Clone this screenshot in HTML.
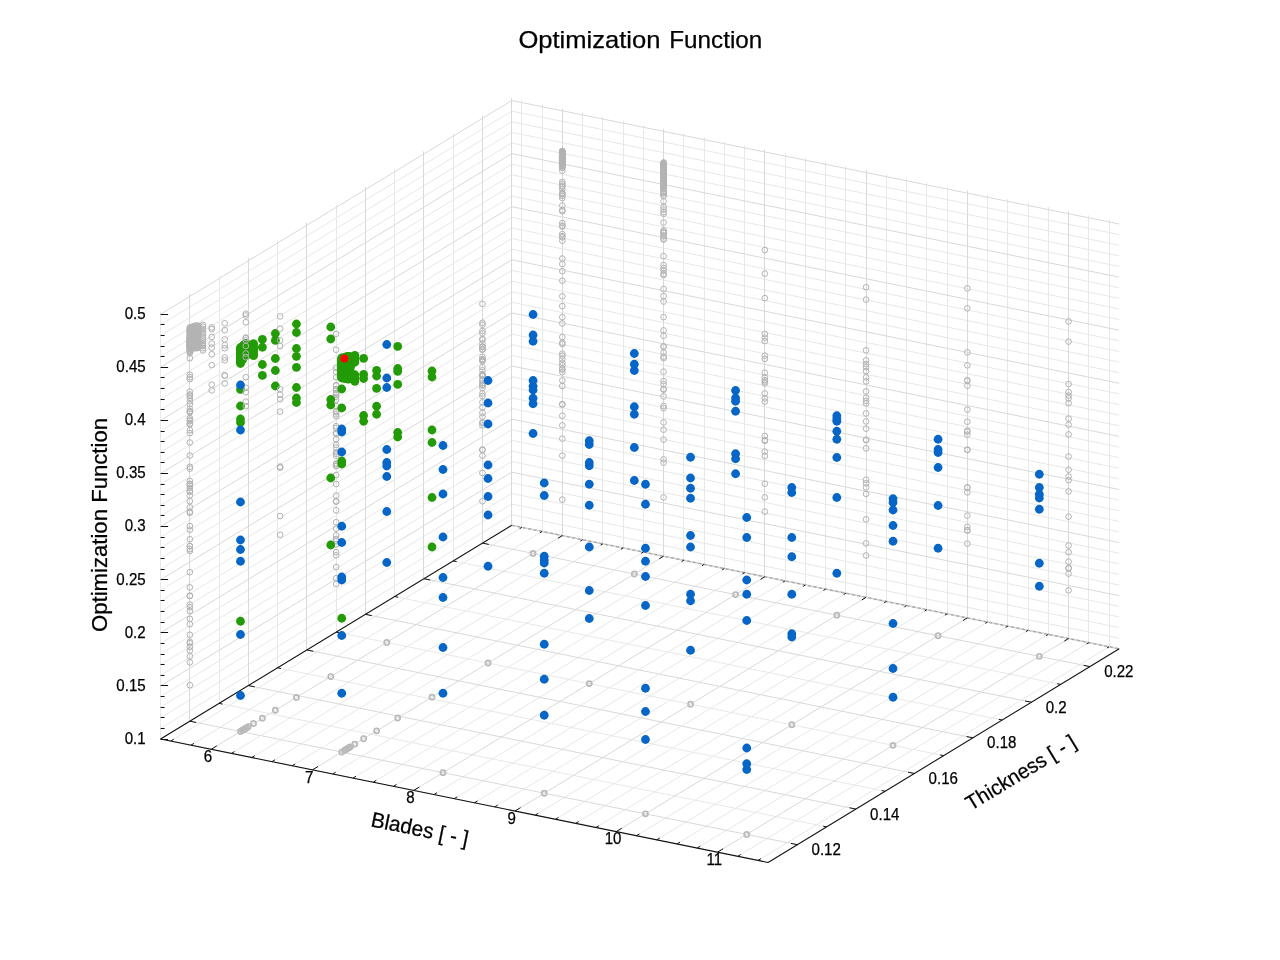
<!DOCTYPE html>
<html><head><meta charset="utf-8"><title>Optimization Function</title>
<style>html,body{margin:0;padding:0;background:#fff}svg{display:block}</style></head>
<body><svg width="1280" height="960" viewBox="0 0 1280 960">
<rect width="1280" height="960" fill="#fff"/>
<g shape-rendering="auto">
<line x1="160.60" y1="728.38" x2="511.70" y2="514.68" stroke="#e8e8e8" stroke-width="1" />
<line x1="511.70" y1="514.68" x2="1119.20" y2="638.18" stroke="#e8e8e8" stroke-width="1" />
<line x1="160.60" y1="717.76" x2="511.70" y2="504.06" stroke="#e8e8e8" stroke-width="1" />
<line x1="511.70" y1="504.06" x2="1119.20" y2="627.56" stroke="#e8e8e8" stroke-width="1" />
<line x1="160.60" y1="707.14" x2="511.70" y2="493.44" stroke="#e8e8e8" stroke-width="1" />
<line x1="511.70" y1="493.44" x2="1119.20" y2="616.94" stroke="#e8e8e8" stroke-width="1" />
<line x1="160.60" y1="696.52" x2="511.70" y2="482.82" stroke="#e8e8e8" stroke-width="1" />
<line x1="511.70" y1="482.82" x2="1119.20" y2="606.32" stroke="#e8e8e8" stroke-width="1" />
<line x1="160.60" y1="675.28" x2="511.70" y2="461.58" stroke="#e8e8e8" stroke-width="1" />
<line x1="511.70" y1="461.58" x2="1119.20" y2="585.08" stroke="#e8e8e8" stroke-width="1" />
<line x1="160.60" y1="664.66" x2="511.70" y2="450.96" stroke="#e8e8e8" stroke-width="1" />
<line x1="511.70" y1="450.96" x2="1119.20" y2="574.46" stroke="#e8e8e8" stroke-width="1" />
<line x1="160.60" y1="654.04" x2="511.70" y2="440.34" stroke="#e8e8e8" stroke-width="1" />
<line x1="511.70" y1="440.34" x2="1119.20" y2="563.84" stroke="#e8e8e8" stroke-width="1" />
<line x1="160.60" y1="643.42" x2="511.70" y2="429.72" stroke="#e8e8e8" stroke-width="1" />
<line x1="511.70" y1="429.72" x2="1119.20" y2="553.22" stroke="#e8e8e8" stroke-width="1" />
<line x1="160.60" y1="622.18" x2="511.70" y2="408.48" stroke="#e8e8e8" stroke-width="1" />
<line x1="511.70" y1="408.48" x2="1119.20" y2="531.98" stroke="#e8e8e8" stroke-width="1" />
<line x1="160.60" y1="611.56" x2="511.70" y2="397.86" stroke="#e8e8e8" stroke-width="1" />
<line x1="511.70" y1="397.86" x2="1119.20" y2="521.36" stroke="#e8e8e8" stroke-width="1" />
<line x1="160.60" y1="600.94" x2="511.70" y2="387.24" stroke="#e8e8e8" stroke-width="1" />
<line x1="511.70" y1="387.24" x2="1119.20" y2="510.74" stroke="#e8e8e8" stroke-width="1" />
<line x1="160.60" y1="590.32" x2="511.70" y2="376.62" stroke="#e8e8e8" stroke-width="1" />
<line x1="511.70" y1="376.62" x2="1119.20" y2="500.12" stroke="#e8e8e8" stroke-width="1" />
<line x1="160.60" y1="569.08" x2="511.70" y2="355.38" stroke="#e8e8e8" stroke-width="1" />
<line x1="511.70" y1="355.38" x2="1119.20" y2="478.88" stroke="#e8e8e8" stroke-width="1" />
<line x1="160.60" y1="558.46" x2="511.70" y2="344.76" stroke="#e8e8e8" stroke-width="1" />
<line x1="511.70" y1="344.76" x2="1119.20" y2="468.26" stroke="#e8e8e8" stroke-width="1" />
<line x1="160.60" y1="547.84" x2="511.70" y2="334.14" stroke="#e8e8e8" stroke-width="1" />
<line x1="511.70" y1="334.14" x2="1119.20" y2="457.64" stroke="#e8e8e8" stroke-width="1" />
<line x1="160.60" y1="537.22" x2="511.70" y2="323.52" stroke="#e8e8e8" stroke-width="1" />
<line x1="511.70" y1="323.52" x2="1119.20" y2="447.02" stroke="#e8e8e8" stroke-width="1" />
<line x1="160.60" y1="515.98" x2="511.70" y2="302.28" stroke="#e8e8e8" stroke-width="1" />
<line x1="511.70" y1="302.28" x2="1119.20" y2="425.78" stroke="#e8e8e8" stroke-width="1" />
<line x1="160.60" y1="505.36" x2="511.70" y2="291.66" stroke="#e8e8e8" stroke-width="1" />
<line x1="511.70" y1="291.66" x2="1119.20" y2="415.16" stroke="#e8e8e8" stroke-width="1" />
<line x1="160.60" y1="494.74" x2="511.70" y2="281.04" stroke="#e8e8e8" stroke-width="1" />
<line x1="511.70" y1="281.04" x2="1119.20" y2="404.54" stroke="#e8e8e8" stroke-width="1" />
<line x1="160.60" y1="484.12" x2="511.70" y2="270.42" stroke="#e8e8e8" stroke-width="1" />
<line x1="511.70" y1="270.42" x2="1119.20" y2="393.92" stroke="#e8e8e8" stroke-width="1" />
<line x1="160.60" y1="462.88" x2="511.70" y2="249.18" stroke="#e8e8e8" stroke-width="1" />
<line x1="511.70" y1="249.18" x2="1119.20" y2="372.68" stroke="#e8e8e8" stroke-width="1" />
<line x1="160.60" y1="452.26" x2="511.70" y2="238.56" stroke="#e8e8e8" stroke-width="1" />
<line x1="511.70" y1="238.56" x2="1119.20" y2="362.06" stroke="#e8e8e8" stroke-width="1" />
<line x1="160.60" y1="441.64" x2="511.70" y2="227.94" stroke="#e8e8e8" stroke-width="1" />
<line x1="511.70" y1="227.94" x2="1119.20" y2="351.44" stroke="#e8e8e8" stroke-width="1" />
<line x1="160.60" y1="431.02" x2="511.70" y2="217.32" stroke="#e8e8e8" stroke-width="1" />
<line x1="511.70" y1="217.32" x2="1119.20" y2="340.82" stroke="#e8e8e8" stroke-width="1" />
<line x1="160.60" y1="409.78" x2="511.70" y2="196.08" stroke="#e8e8e8" stroke-width="1" />
<line x1="511.70" y1="196.08" x2="1119.20" y2="319.58" stroke="#e8e8e8" stroke-width="1" />
<line x1="160.60" y1="399.16" x2="511.70" y2="185.46" stroke="#e8e8e8" stroke-width="1" />
<line x1="511.70" y1="185.46" x2="1119.20" y2="308.96" stroke="#e8e8e8" stroke-width="1" />
<line x1="160.60" y1="388.54" x2="511.70" y2="174.84" stroke="#e8e8e8" stroke-width="1" />
<line x1="511.70" y1="174.84" x2="1119.20" y2="298.34" stroke="#e8e8e8" stroke-width="1" />
<line x1="160.60" y1="377.92" x2="511.70" y2="164.22" stroke="#e8e8e8" stroke-width="1" />
<line x1="511.70" y1="164.22" x2="1119.20" y2="287.72" stroke="#e8e8e8" stroke-width="1" />
<line x1="160.60" y1="356.68" x2="511.70" y2="142.98" stroke="#e8e8e8" stroke-width="1" />
<line x1="511.70" y1="142.98" x2="1119.20" y2="266.48" stroke="#e8e8e8" stroke-width="1" />
<line x1="160.60" y1="346.06" x2="511.70" y2="132.36" stroke="#e8e8e8" stroke-width="1" />
<line x1="511.70" y1="132.36" x2="1119.20" y2="255.86" stroke="#e8e8e8" stroke-width="1" />
<line x1="160.60" y1="335.44" x2="511.70" y2="121.74" stroke="#e8e8e8" stroke-width="1" />
<line x1="511.70" y1="121.74" x2="1119.20" y2="245.24" stroke="#e8e8e8" stroke-width="1" />
<line x1="160.60" y1="324.82" x2="511.70" y2="111.12" stroke="#e8e8e8" stroke-width="1" />
<line x1="511.70" y1="111.12" x2="1119.20" y2="234.62" stroke="#e8e8e8" stroke-width="1" />
<line x1="160.50" y1="739.00" x2="160.50" y2="311.70" stroke="#e8e8e8" stroke-width="1" />
<line x1="160.60" y1="739.00" x2="768.10" y2="862.50" stroke="#e8e8e8" stroke-width="1" />
<line x1="219.50" y1="703.38" x2="219.50" y2="276.08" stroke="#e8e8e8" stroke-width="1" />
<line x1="219.12" y1="703.38" x2="826.62" y2="826.88" stroke="#e8e8e8" stroke-width="1" />
<line x1="277.50" y1="667.77" x2="277.50" y2="240.47" stroke="#e8e8e8" stroke-width="1" />
<line x1="277.63" y1="667.77" x2="885.13" y2="791.27" stroke="#e8e8e8" stroke-width="1" />
<line x1="336.50" y1="632.15" x2="336.50" y2="204.85" stroke="#e8e8e8" stroke-width="1" />
<line x1="336.15" y1="632.15" x2="943.65" y2="755.65" stroke="#e8e8e8" stroke-width="1" />
<line x1="394.50" y1="596.53" x2="394.50" y2="169.23" stroke="#e8e8e8" stroke-width="1" />
<line x1="394.67" y1="596.53" x2="1002.17" y2="720.03" stroke="#e8e8e8" stroke-width="1" />
<line x1="453.50" y1="560.92" x2="453.50" y2="133.62" stroke="#e8e8e8" stroke-width="1" />
<line x1="453.18" y1="560.92" x2="1060.68" y2="684.42" stroke="#e8e8e8" stroke-width="1" />
<line x1="511.50" y1="525.30" x2="511.50" y2="98.00" stroke="#e8e8e8" stroke-width="1" />
<line x1="511.70" y1="525.30" x2="1119.20" y2="648.80" stroke="#e8e8e8" stroke-width="1" />
<line x1="521.50" y1="527.36" x2="521.50" y2="100.06" stroke="#e8e8e8" stroke-width="1" />
<line x1="170.72" y1="741.06" x2="521.83" y2="527.36" stroke="#e8e8e8" stroke-width="1" />
<line x1="542.50" y1="531.47" x2="542.50" y2="104.17" stroke="#e8e8e8" stroke-width="1" />
<line x1="190.97" y1="745.17" x2="542.08" y2="531.47" stroke="#e8e8e8" stroke-width="1" />
<line x1="582.50" y1="539.71" x2="582.50" y2="112.41" stroke="#e8e8e8" stroke-width="1" />
<line x1="231.47" y1="753.41" x2="582.57" y2="539.71" stroke="#e8e8e8" stroke-width="1" />
<line x1="602.50" y1="543.82" x2="602.50" y2="116.52" stroke="#e8e8e8" stroke-width="1" />
<line x1="251.72" y1="757.52" x2="602.82" y2="543.82" stroke="#e8e8e8" stroke-width="1" />
<line x1="623.50" y1="547.94" x2="623.50" y2="120.64" stroke="#e8e8e8" stroke-width="1" />
<line x1="271.97" y1="761.64" x2="623.08" y2="547.94" stroke="#e8e8e8" stroke-width="1" />
<line x1="643.50" y1="552.06" x2="643.50" y2="124.76" stroke="#e8e8e8" stroke-width="1" />
<line x1="292.22" y1="765.76" x2="643.33" y2="552.06" stroke="#e8e8e8" stroke-width="1" />
<line x1="683.50" y1="560.29" x2="683.50" y2="132.99" stroke="#e8e8e8" stroke-width="1" />
<line x1="332.72" y1="773.99" x2="683.82" y2="560.29" stroke="#e8e8e8" stroke-width="1" />
<line x1="704.50" y1="564.41" x2="704.50" y2="137.11" stroke="#e8e8e8" stroke-width="1" />
<line x1="352.97" y1="778.11" x2="704.07" y2="564.41" stroke="#e8e8e8" stroke-width="1" />
<line x1="724.50" y1="568.52" x2="724.50" y2="141.22" stroke="#e8e8e8" stroke-width="1" />
<line x1="373.22" y1="782.23" x2="724.33" y2="568.52" stroke="#e8e8e8" stroke-width="1" />
<line x1="744.50" y1="572.64" x2="744.50" y2="145.34" stroke="#e8e8e8" stroke-width="1" />
<line x1="393.47" y1="786.34" x2="744.58" y2="572.64" stroke="#e8e8e8" stroke-width="1" />
<line x1="785.50" y1="580.87" x2="785.50" y2="153.57" stroke="#e8e8e8" stroke-width="1" />
<line x1="433.97" y1="794.57" x2="785.07" y2="580.87" stroke="#e8e8e8" stroke-width="1" />
<line x1="805.50" y1="584.99" x2="805.50" y2="157.69" stroke="#e8e8e8" stroke-width="1" />
<line x1="454.23" y1="798.69" x2="805.33" y2="584.99" stroke="#e8e8e8" stroke-width="1" />
<line x1="825.50" y1="589.11" x2="825.50" y2="161.81" stroke="#e8e8e8" stroke-width="1" />
<line x1="474.47" y1="802.81" x2="825.57" y2="589.11" stroke="#e8e8e8" stroke-width="1" />
<line x1="845.50" y1="593.22" x2="845.50" y2="165.92" stroke="#e8e8e8" stroke-width="1" />
<line x1="494.73" y1="806.92" x2="845.83" y2="593.22" stroke="#e8e8e8" stroke-width="1" />
<line x1="886.50" y1="601.46" x2="886.50" y2="174.16" stroke="#e8e8e8" stroke-width="1" />
<line x1="535.22" y1="815.16" x2="886.32" y2="601.46" stroke="#e8e8e8" stroke-width="1" />
<line x1="906.50" y1="605.57" x2="906.50" y2="178.27" stroke="#e8e8e8" stroke-width="1" />
<line x1="555.48" y1="819.27" x2="906.58" y2="605.57" stroke="#e8e8e8" stroke-width="1" />
<line x1="926.50" y1="609.69" x2="926.50" y2="182.39" stroke="#e8e8e8" stroke-width="1" />
<line x1="575.72" y1="823.39" x2="926.82" y2="609.69" stroke="#e8e8e8" stroke-width="1" />
<line x1="947.50" y1="613.81" x2="947.50" y2="186.51" stroke="#e8e8e8" stroke-width="1" />
<line x1="595.98" y1="827.51" x2="947.08" y2="613.81" stroke="#e8e8e8" stroke-width="1" />
<line x1="987.50" y1="622.04" x2="987.50" y2="194.74" stroke="#e8e8e8" stroke-width="1" />
<line x1="636.47" y1="835.74" x2="987.57" y2="622.04" stroke="#e8e8e8" stroke-width="1" />
<line x1="1007.50" y1="626.16" x2="1007.50" y2="198.86" stroke="#e8e8e8" stroke-width="1" />
<line x1="656.73" y1="839.86" x2="1007.83" y2="626.16" stroke="#e8e8e8" stroke-width="1" />
<line x1="1028.50" y1="630.27" x2="1028.50" y2="202.97" stroke="#e8e8e8" stroke-width="1" />
<line x1="676.98" y1="843.98" x2="1028.08" y2="630.27" stroke="#e8e8e8" stroke-width="1" />
<line x1="1048.50" y1="634.39" x2="1048.50" y2="207.09" stroke="#e8e8e8" stroke-width="1" />
<line x1="697.23" y1="848.09" x2="1048.33" y2="634.39" stroke="#e8e8e8" stroke-width="1" />
<line x1="1088.50" y1="642.62" x2="1088.50" y2="215.32" stroke="#e8e8e8" stroke-width="1" />
<line x1="737.72" y1="856.32" x2="1088.82" y2="642.62" stroke="#e8e8e8" stroke-width="1" />
<line x1="1109.50" y1="646.74" x2="1109.50" y2="219.44" stroke="#e8e8e8" stroke-width="1" />
<line x1="757.98" y1="860.44" x2="1109.08" y2="646.74" stroke="#e8e8e8" stroke-width="1" />
<line x1="160.60" y1="739.00" x2="511.70" y2="525.30" stroke="#d9d9d9" stroke-width="1" />
<line x1="511.70" y1="525.30" x2="1119.20" y2="648.80" stroke="#d9d9d9" stroke-width="1" />
<line x1="160.60" y1="685.90" x2="511.70" y2="472.20" stroke="#d9d9d9" stroke-width="1" />
<line x1="511.70" y1="472.20" x2="1119.20" y2="595.70" stroke="#d9d9d9" stroke-width="1" />
<line x1="160.60" y1="632.80" x2="511.70" y2="419.10" stroke="#d9d9d9" stroke-width="1" />
<line x1="511.70" y1="419.10" x2="1119.20" y2="542.60" stroke="#d9d9d9" stroke-width="1" />
<line x1="160.60" y1="579.70" x2="511.70" y2="366.00" stroke="#d9d9d9" stroke-width="1" />
<line x1="511.70" y1="366.00" x2="1119.20" y2="489.50" stroke="#d9d9d9" stroke-width="1" />
<line x1="160.60" y1="526.60" x2="511.70" y2="312.90" stroke="#d9d9d9" stroke-width="1" />
<line x1="511.70" y1="312.90" x2="1119.20" y2="436.40" stroke="#d9d9d9" stroke-width="1" />
<line x1="160.60" y1="473.50" x2="511.70" y2="259.80" stroke="#d9d9d9" stroke-width="1" />
<line x1="511.70" y1="259.80" x2="1119.20" y2="383.30" stroke="#d9d9d9" stroke-width="1" />
<line x1="160.60" y1="420.40" x2="511.70" y2="206.70" stroke="#d9d9d9" stroke-width="1" />
<line x1="511.70" y1="206.70" x2="1119.20" y2="330.20" stroke="#d9d9d9" stroke-width="1" />
<line x1="160.60" y1="367.30" x2="511.70" y2="153.60" stroke="#d9d9d9" stroke-width="1" />
<line x1="511.70" y1="153.60" x2="1119.20" y2="277.10" stroke="#d9d9d9" stroke-width="1" />
<line x1="160.60" y1="314.20" x2="511.70" y2="100.50" stroke="#d9d9d9" stroke-width="1" />
<line x1="511.70" y1="100.50" x2="1119.20" y2="224.00" stroke="#d9d9d9" stroke-width="1" />
<line x1="189.50" y1="721.19" x2="189.50" y2="293.89" stroke="#d9d9d9" stroke-width="1" />
<line x1="189.86" y1="721.19" x2="797.36" y2="844.69" stroke="#d9d9d9" stroke-width="1" />
<line x1="248.50" y1="685.57" x2="248.50" y2="258.27" stroke="#d9d9d9" stroke-width="1" />
<line x1="248.38" y1="685.57" x2="855.88" y2="809.07" stroke="#d9d9d9" stroke-width="1" />
<line x1="306.50" y1="649.96" x2="306.50" y2="222.66" stroke="#d9d9d9" stroke-width="1" />
<line x1="306.89" y1="649.96" x2="914.39" y2="773.46" stroke="#d9d9d9" stroke-width="1" />
<line x1="365.50" y1="614.34" x2="365.50" y2="187.04" stroke="#d9d9d9" stroke-width="1" />
<line x1="365.41" y1="614.34" x2="972.91" y2="737.84" stroke="#d9d9d9" stroke-width="1" />
<line x1="423.50" y1="578.72" x2="423.50" y2="151.42" stroke="#d9d9d9" stroke-width="1" />
<line x1="423.93" y1="578.72" x2="1031.43" y2="702.22" stroke="#d9d9d9" stroke-width="1" />
<line x1="482.50" y1="543.11" x2="482.50" y2="115.81" stroke="#d9d9d9" stroke-width="1" />
<line x1="482.44" y1="543.11" x2="1089.94" y2="666.61" stroke="#d9d9d9" stroke-width="1" />
<line x1="562.50" y1="535.59" x2="562.50" y2="108.29" stroke="#d9d9d9" stroke-width="1" />
<line x1="211.22" y1="749.29" x2="562.33" y2="535.59" stroke="#d9d9d9" stroke-width="1" />
<line x1="663.50" y1="556.17" x2="663.50" y2="128.87" stroke="#d9d9d9" stroke-width="1" />
<line x1="312.48" y1="769.88" x2="663.58" y2="556.17" stroke="#d9d9d9" stroke-width="1" />
<line x1="764.50" y1="576.76" x2="764.50" y2="149.46" stroke="#d9d9d9" stroke-width="1" />
<line x1="413.73" y1="790.46" x2="764.83" y2="576.76" stroke="#d9d9d9" stroke-width="1" />
<line x1="866.50" y1="597.34" x2="866.50" y2="170.04" stroke="#d9d9d9" stroke-width="1" />
<line x1="514.98" y1="811.04" x2="866.08" y2="597.34" stroke="#d9d9d9" stroke-width="1" />
<line x1="967.50" y1="617.92" x2="967.50" y2="190.62" stroke="#d9d9d9" stroke-width="1" />
<line x1="616.23" y1="831.62" x2="967.33" y2="617.92" stroke="#d9d9d9" stroke-width="1" />
<line x1="1068.50" y1="638.51" x2="1068.50" y2="211.21" stroke="#d9d9d9" stroke-width="1" />
<line x1="717.48" y1="852.21" x2="1068.58" y2="638.51" stroke="#d9d9d9" stroke-width="1" />
<line x1="511.50" y1="525.30" x2="511.50" y2="98.00" stroke="#d9d9d9" stroke-width="1" />
</g>
<line x1="511.70" y1="525.30" x2="1119.20" y2="648.80" stroke="#d8d8d8" stroke-width="1.6" />
<line x1="511.70" y1="525.30" x2="1119.20" y2="648.80" stroke="#a8a8a8" stroke-width="1.3" stroke-dasharray="3 2.6"/>
<line x1="160.60" y1="739.00" x2="511.70" y2="525.30" stroke="#111" stroke-width="1.1" />
<line x1="160.60" y1="739.00" x2="768.10" y2="862.50" stroke="#111" stroke-width="1.1" />
<line x1="768.10" y1="862.50" x2="1119.20" y2="648.80" stroke="#111" stroke-width="1.1" />
<line x1="170.72" y1="741.06" x2="173.71" y2="739.24" stroke="#111" stroke-width="1.0" />
<line x1="521.83" y1="527.36" x2="519.69" y2="528.66" stroke="#111" stroke-width="1.0" />
<line x1="190.97" y1="745.17" x2="193.96" y2="743.36" stroke="#111" stroke-width="1.0" />
<line x1="542.08" y1="531.47" x2="539.94" y2="532.77" stroke="#111" stroke-width="1.0" />
<line x1="211.22" y1="749.29" x2="216.78" y2="745.91" stroke="#111" stroke-width="1.0" />
<line x1="562.33" y1="535.59" x2="558.05" y2="538.19" stroke="#111" stroke-width="1.0" />
<line x1="231.47" y1="753.41" x2="234.46" y2="751.59" stroke="#111" stroke-width="1.0" />
<line x1="582.57" y1="539.71" x2="580.44" y2="541.01" stroke="#111" stroke-width="1.0" />
<line x1="251.72" y1="757.52" x2="254.71" y2="755.71" stroke="#111" stroke-width="1.0" />
<line x1="602.82" y1="543.82" x2="600.69" y2="545.12" stroke="#111" stroke-width="1.0" />
<line x1="271.97" y1="761.64" x2="274.96" y2="759.82" stroke="#111" stroke-width="1.0" />
<line x1="623.08" y1="547.94" x2="620.94" y2="549.24" stroke="#111" stroke-width="1.0" />
<line x1="292.22" y1="765.76" x2="295.21" y2="763.94" stroke="#111" stroke-width="1.0" />
<line x1="643.33" y1="552.06" x2="641.19" y2="553.36" stroke="#111" stroke-width="1.0" />
<line x1="312.48" y1="769.88" x2="318.03" y2="766.50" stroke="#111" stroke-width="1.0" />
<line x1="663.58" y1="556.17" x2="659.30" y2="558.77" stroke="#111" stroke-width="1.0" />
<line x1="332.72" y1="773.99" x2="335.71" y2="772.17" stroke="#111" stroke-width="1.0" />
<line x1="683.82" y1="560.29" x2="681.69" y2="561.59" stroke="#111" stroke-width="1.0" />
<line x1="352.97" y1="778.11" x2="355.96" y2="776.29" stroke="#111" stroke-width="1.0" />
<line x1="704.07" y1="564.41" x2="701.94" y2="565.71" stroke="#111" stroke-width="1.0" />
<line x1="373.22" y1="782.23" x2="376.21" y2="780.41" stroke="#111" stroke-width="1.0" />
<line x1="724.33" y1="568.52" x2="722.19" y2="569.82" stroke="#111" stroke-width="1.0" />
<line x1="393.47" y1="786.34" x2="396.46" y2="784.52" stroke="#111" stroke-width="1.0" />
<line x1="744.58" y1="572.64" x2="742.44" y2="573.94" stroke="#111" stroke-width="1.0" />
<line x1="413.73" y1="790.46" x2="419.28" y2="787.08" stroke="#111" stroke-width="1.0" />
<line x1="764.83" y1="576.76" x2="760.55" y2="579.36" stroke="#111" stroke-width="1.0" />
<line x1="433.97" y1="794.57" x2="436.96" y2="792.76" stroke="#111" stroke-width="1.0" />
<line x1="785.07" y1="580.87" x2="782.94" y2="582.17" stroke="#111" stroke-width="1.0" />
<line x1="454.23" y1="798.69" x2="457.21" y2="796.87" stroke="#111" stroke-width="1.0" />
<line x1="805.33" y1="584.99" x2="803.19" y2="586.29" stroke="#111" stroke-width="1.0" />
<line x1="474.47" y1="802.81" x2="477.46" y2="800.99" stroke="#111" stroke-width="1.0" />
<line x1="825.57" y1="589.11" x2="823.44" y2="590.41" stroke="#111" stroke-width="1.0" />
<line x1="494.73" y1="806.92" x2="497.71" y2="805.11" stroke="#111" stroke-width="1.0" />
<line x1="845.83" y1="593.22" x2="843.69" y2="594.52" stroke="#111" stroke-width="1.0" />
<line x1="514.98" y1="811.04" x2="520.53" y2="807.66" stroke="#111" stroke-width="1.0" />
<line x1="866.08" y1="597.34" x2="861.80" y2="599.94" stroke="#111" stroke-width="1.0" />
<line x1="535.22" y1="815.16" x2="538.21" y2="813.34" stroke="#111" stroke-width="1.0" />
<line x1="886.32" y1="601.46" x2="884.19" y2="602.76" stroke="#111" stroke-width="1.0" />
<line x1="555.48" y1="819.27" x2="558.46" y2="817.46" stroke="#111" stroke-width="1.0" />
<line x1="906.58" y1="605.57" x2="904.44" y2="606.87" stroke="#111" stroke-width="1.0" />
<line x1="575.72" y1="823.39" x2="578.71" y2="821.57" stroke="#111" stroke-width="1.0" />
<line x1="926.82" y1="609.69" x2="924.69" y2="610.99" stroke="#111" stroke-width="1.0" />
<line x1="595.98" y1="827.51" x2="598.96" y2="825.69" stroke="#111" stroke-width="1.0" />
<line x1="947.08" y1="613.81" x2="944.94" y2="615.11" stroke="#111" stroke-width="1.0" />
<line x1="616.23" y1="831.62" x2="621.78" y2="828.25" stroke="#111" stroke-width="1.0" />
<line x1="967.33" y1="617.92" x2="963.05" y2="620.52" stroke="#111" stroke-width="1.0" />
<line x1="636.47" y1="835.74" x2="639.46" y2="833.92" stroke="#111" stroke-width="1.0" />
<line x1="987.57" y1="622.04" x2="985.44" y2="623.34" stroke="#111" stroke-width="1.0" />
<line x1="656.73" y1="839.86" x2="659.71" y2="838.04" stroke="#111" stroke-width="1.0" />
<line x1="1007.83" y1="626.16" x2="1005.69" y2="627.46" stroke="#111" stroke-width="1.0" />
<line x1="676.98" y1="843.98" x2="679.96" y2="842.16" stroke="#111" stroke-width="1.0" />
<line x1="1028.08" y1="630.27" x2="1025.94" y2="631.57" stroke="#111" stroke-width="1.0" />
<line x1="697.23" y1="848.09" x2="700.21" y2="846.27" stroke="#111" stroke-width="1.0" />
<line x1="1048.33" y1="634.39" x2="1046.19" y2="635.69" stroke="#111" stroke-width="1.0" />
<line x1="717.48" y1="852.21" x2="723.03" y2="848.83" stroke="#111" stroke-width="1.0" />
<line x1="1068.58" y1="638.51" x2="1064.30" y2="641.11" stroke="#111" stroke-width="1.0" />
<line x1="737.72" y1="856.32" x2="740.71" y2="854.51" stroke="#111" stroke-width="1.0" />
<line x1="1088.82" y1="642.62" x2="1086.69" y2="643.92" stroke="#111" stroke-width="1.0" />
<line x1="757.98" y1="860.44" x2="760.96" y2="858.62" stroke="#111" stroke-width="1.0" />
<line x1="1109.08" y1="646.74" x2="1106.94" y2="648.04" stroke="#111" stroke-width="1.0" />
<line x1="797.36" y1="844.69" x2="790.99" y2="843.40" stroke="#111" stroke-width="1.0" />
<line x1="189.86" y1="721.19" x2="196.23" y2="722.49" stroke="#111" stroke-width="1.0" />
<line x1="826.62" y1="826.88" x2="823.19" y2="826.19" stroke="#111" stroke-width="1.0" />
<line x1="219.12" y1="703.38" x2="222.55" y2="704.08" stroke="#111" stroke-width="1.0" />
<line x1="855.88" y1="809.08" x2="849.51" y2="807.78" stroke="#111" stroke-width="1.0" />
<line x1="248.37" y1="685.58" x2="254.74" y2="686.87" stroke="#111" stroke-width="1.0" />
<line x1="885.13" y1="791.27" x2="881.70" y2="790.57" stroke="#111" stroke-width="1.0" />
<line x1="277.63" y1="667.77" x2="281.06" y2="668.46" stroke="#111" stroke-width="1.0" />
<line x1="914.39" y1="773.46" x2="908.02" y2="772.16" stroke="#111" stroke-width="1.0" />
<line x1="306.89" y1="649.96" x2="313.26" y2="651.25" stroke="#111" stroke-width="1.0" />
<line x1="943.65" y1="755.65" x2="940.22" y2="754.95" stroke="#111" stroke-width="1.0" />
<line x1="336.15" y1="632.15" x2="339.58" y2="632.85" stroke="#111" stroke-width="1.0" />
<line x1="972.91" y1="737.84" x2="966.54" y2="736.55" stroke="#111" stroke-width="1.0" />
<line x1="365.41" y1="614.34" x2="371.78" y2="615.64" stroke="#111" stroke-width="1.0" />
<line x1="1002.17" y1="720.03" x2="998.74" y2="719.34" stroke="#111" stroke-width="1.0" />
<line x1="394.67" y1="596.53" x2="398.10" y2="597.23" stroke="#111" stroke-width="1.0" />
<line x1="1031.43" y1="702.22" x2="1025.06" y2="700.93" stroke="#111" stroke-width="1.0" />
<line x1="423.93" y1="578.72" x2="430.29" y2="580.02" stroke="#111" stroke-width="1.0" />
<line x1="1060.68" y1="684.42" x2="1057.25" y2="683.72" stroke="#111" stroke-width="1.0" />
<line x1="453.18" y1="560.92" x2="456.61" y2="561.61" stroke="#111" stroke-width="1.0" />
<line x1="1089.94" y1="666.61" x2="1083.57" y2="665.31" stroke="#111" stroke-width="1.0" />
<line x1="482.44" y1="543.11" x2="488.81" y2="544.40" stroke="#111" stroke-width="1.0" />
<line x1="160.60" y1="739.50" x2="168.10" y2="739.50" stroke="#111" stroke-width="1.0" />
<line x1="160.60" y1="728.50" x2="164.60" y2="728.50" stroke="#111" stroke-width="1.0" />
<line x1="160.60" y1="717.50" x2="164.60" y2="717.50" stroke="#111" stroke-width="1.0" />
<line x1="160.60" y1="707.50" x2="164.60" y2="707.50" stroke="#111" stroke-width="1.0" />
<line x1="160.60" y1="696.50" x2="164.60" y2="696.50" stroke="#111" stroke-width="1.0" />
<line x1="160.60" y1="685.50" x2="168.10" y2="685.50" stroke="#111" stroke-width="1.0" />
<line x1="160.60" y1="675.50" x2="164.60" y2="675.50" stroke="#111" stroke-width="1.0" />
<line x1="160.60" y1="664.50" x2="164.60" y2="664.50" stroke="#111" stroke-width="1.0" />
<line x1="160.60" y1="654.50" x2="164.60" y2="654.50" stroke="#111" stroke-width="1.0" />
<line x1="160.60" y1="643.50" x2="164.60" y2="643.50" stroke="#111" stroke-width="1.0" />
<line x1="160.60" y1="632.50" x2="168.10" y2="632.50" stroke="#111" stroke-width="1.0" />
<line x1="160.60" y1="622.50" x2="164.60" y2="622.50" stroke="#111" stroke-width="1.0" />
<line x1="160.60" y1="611.50" x2="164.60" y2="611.50" stroke="#111" stroke-width="1.0" />
<line x1="160.60" y1="600.50" x2="164.60" y2="600.50" stroke="#111" stroke-width="1.0" />
<line x1="160.60" y1="590.50" x2="164.60" y2="590.50" stroke="#111" stroke-width="1.0" />
<line x1="160.60" y1="579.50" x2="168.10" y2="579.50" stroke="#111" stroke-width="1.0" />
<line x1="160.60" y1="569.50" x2="164.60" y2="569.50" stroke="#111" stroke-width="1.0" />
<line x1="160.60" y1="558.50" x2="164.60" y2="558.50" stroke="#111" stroke-width="1.0" />
<line x1="160.60" y1="547.50" x2="164.60" y2="547.50" stroke="#111" stroke-width="1.0" />
<line x1="160.60" y1="537.50" x2="164.60" y2="537.50" stroke="#111" stroke-width="1.0" />
<line x1="160.60" y1="526.50" x2="168.10" y2="526.50" stroke="#111" stroke-width="1.0" />
<line x1="160.60" y1="515.50" x2="164.60" y2="515.50" stroke="#111" stroke-width="1.0" />
<line x1="160.60" y1="505.50" x2="164.60" y2="505.50" stroke="#111" stroke-width="1.0" />
<line x1="160.60" y1="494.50" x2="164.60" y2="494.50" stroke="#111" stroke-width="1.0" />
<line x1="160.60" y1="484.50" x2="164.60" y2="484.50" stroke="#111" stroke-width="1.0" />
<line x1="160.60" y1="473.50" x2="168.10" y2="473.50" stroke="#111" stroke-width="1.0" />
<line x1="160.60" y1="462.50" x2="164.60" y2="462.50" stroke="#111" stroke-width="1.0" />
<line x1="160.60" y1="452.50" x2="164.60" y2="452.50" stroke="#111" stroke-width="1.0" />
<line x1="160.60" y1="441.50" x2="164.60" y2="441.50" stroke="#111" stroke-width="1.0" />
<line x1="160.60" y1="431.50" x2="164.60" y2="431.50" stroke="#111" stroke-width="1.0" />
<line x1="160.60" y1="420.50" x2="168.10" y2="420.50" stroke="#111" stroke-width="1.0" />
<line x1="160.60" y1="409.50" x2="164.60" y2="409.50" stroke="#111" stroke-width="1.0" />
<line x1="160.60" y1="399.50" x2="164.60" y2="399.50" stroke="#111" stroke-width="1.0" />
<line x1="160.60" y1="388.50" x2="164.60" y2="388.50" stroke="#111" stroke-width="1.0" />
<line x1="160.60" y1="377.50" x2="164.60" y2="377.50" stroke="#111" stroke-width="1.0" />
<line x1="160.60" y1="367.50" x2="168.10" y2="367.50" stroke="#111" stroke-width="1.0" />
<line x1="160.60" y1="356.50" x2="164.60" y2="356.50" stroke="#111" stroke-width="1.0" />
<line x1="160.60" y1="346.50" x2="164.60" y2="346.50" stroke="#111" stroke-width="1.0" />
<line x1="160.60" y1="335.50" x2="164.60" y2="335.50" stroke="#111" stroke-width="1.0" />
<line x1="160.60" y1="324.50" x2="164.60" y2="324.50" stroke="#111" stroke-width="1.0" />
<line x1="160.60" y1="314.50" x2="168.10" y2="314.50" stroke="#111" stroke-width="1.0" />
<circle cx="240.48" cy="731.48" r="2.55" fill="none" stroke="#bababa" stroke-width="1.7"/>
<circle cx="189.86" cy="374.72" r="2.85" fill="none" stroke="#b3b3b3" stroke-width="1.0"/>
<circle cx="562.33" cy="189.12" r="2.85" fill="none" stroke="#b3b3b3" stroke-width="1.0"/>
<circle cx="189.86" cy="419.71" r="2.85" fill="none" stroke="#b3b3b3" stroke-width="1.0"/>
<circle cx="562.33" cy="234.11" r="2.85" fill="none" stroke="#b3b3b3" stroke-width="1.0"/>
<circle cx="189.86" cy="491.71" r="2.85" fill="none" stroke="#b3b3b3" stroke-width="1.0"/>
<circle cx="562.33" cy="306.11" r="2.85" fill="none" stroke="#b3b3b3" stroke-width="1.0"/>
<circle cx="189.86" cy="529.71" r="2.85" fill="none" stroke="#b3b3b3" stroke-width="1.0"/>
<circle cx="562.33" cy="344.11" r="2.85" fill="none" stroke="#b3b3b3" stroke-width="1.0"/>
<circle cx="189.86" cy="539.21" r="2.85" fill="none" stroke="#b3b3b3" stroke-width="1.0"/>
<circle cx="562.33" cy="353.61" r="2.85" fill="none" stroke="#b3b3b3" stroke-width="1.0"/>
<circle cx="189.86" cy="550.96" r="2.85" fill="none" stroke="#b3b3b3" stroke-width="1.0"/>
<circle cx="562.33" cy="365.36" r="2.85" fill="none" stroke="#b3b3b3" stroke-width="1.0"/>
<circle cx="189.86" cy="624.21" r="2.85" fill="none" stroke="#b3b3b3" stroke-width="1.0"/>
<circle cx="562.33" cy="438.61" r="2.85" fill="none" stroke="#b3b3b3" stroke-width="1.0"/>
<circle cx="189.86" cy="685.21" r="2.85" fill="none" stroke="#b3b3b3" stroke-width="1.0"/>
<circle cx="562.33" cy="499.61" r="2.85" fill="none" stroke="#b3b3b3" stroke-width="1.0"/>
<circle cx="341.73" cy="752.07" r="2.55" fill="none" stroke="#bababa" stroke-width="1.7"/>
<circle cx="189.86" cy="397.83" r="2.85" fill="none" stroke="#b3b3b3" stroke-width="1.0"/>
<circle cx="663.58" cy="232.81" r="2.85" fill="none" stroke="#b3b3b3" stroke-width="1.0"/>
<circle cx="189.86" cy="401.13" r="2.85" fill="none" stroke="#b3b3b3" stroke-width="1.0"/>
<circle cx="663.58" cy="236.11" r="2.85" fill="none" stroke="#b3b3b3" stroke-width="1.0"/>
<circle cx="189.86" cy="421.13" r="2.85" fill="none" stroke="#b3b3b3" stroke-width="1.0"/>
<circle cx="663.58" cy="256.11" r="2.85" fill="none" stroke="#b3b3b3" stroke-width="1.0"/>
<circle cx="189.86" cy="495.38" r="2.85" fill="none" stroke="#b3b3b3" stroke-width="1.0"/>
<circle cx="663.58" cy="330.36" r="2.85" fill="none" stroke="#b3b3b3" stroke-width="1.0"/>
<circle cx="189.86" cy="511.63" r="2.85" fill="none" stroke="#b3b3b3" stroke-width="1.0"/>
<circle cx="663.58" cy="346.61" r="2.85" fill="none" stroke="#b3b3b3" stroke-width="1.0"/>
<circle cx="189.86" cy="546.13" r="2.85" fill="none" stroke="#b3b3b3" stroke-width="1.0"/>
<circle cx="663.58" cy="381.11" r="2.85" fill="none" stroke="#b3b3b3" stroke-width="1.0"/>
<circle cx="189.86" cy="549.13" r="2.85" fill="none" stroke="#b3b3b3" stroke-width="1.0"/>
<circle cx="663.58" cy="384.11" r="2.85" fill="none" stroke="#b3b3b3" stroke-width="1.0"/>
<circle cx="189.86" cy="604.63" r="2.85" fill="none" stroke="#b3b3b3" stroke-width="1.0"/>
<circle cx="663.58" cy="439.61" r="2.85" fill="none" stroke="#b3b3b3" stroke-width="1.0"/>
<circle cx="189.86" cy="662.38" r="2.85" fill="none" stroke="#b3b3b3" stroke-width="1.0"/>
<circle cx="663.58" cy="497.36" r="2.85" fill="none" stroke="#b3b3b3" stroke-width="1.0"/>
<circle cx="442.98" cy="772.65" r="2.55" fill="none" stroke="#bababa" stroke-width="1.7"/>
<circle cx="189.86" cy="394.51" r="2.85" fill="none" stroke="#b3b3b3" stroke-width="1.0"/>
<circle cx="764.83" cy="250.07" r="2.85" fill="none" stroke="#b3b3b3" stroke-width="1.0"/>
<circle cx="189.86" cy="418.04" r="2.85" fill="none" stroke="#b3b3b3" stroke-width="1.0"/>
<circle cx="764.83" cy="273.61" r="2.85" fill="none" stroke="#b3b3b3" stroke-width="1.0"/>
<circle cx="189.86" cy="442.54" r="2.85" fill="none" stroke="#b3b3b3" stroke-width="1.0"/>
<circle cx="764.83" cy="298.11" r="2.85" fill="none" stroke="#b3b3b3" stroke-width="1.0"/>
<circle cx="189.86" cy="485.54" r="2.85" fill="none" stroke="#b3b3b3" stroke-width="1.0"/>
<circle cx="764.83" cy="341.11" r="2.85" fill="none" stroke="#b3b3b3" stroke-width="1.0"/>
<circle cx="189.86" cy="526.04" r="2.85" fill="none" stroke="#b3b3b3" stroke-width="1.0"/>
<circle cx="764.83" cy="381.61" r="2.85" fill="none" stroke="#b3b3b3" stroke-width="1.0"/>
<circle cx="189.86" cy="546.04" r="2.85" fill="none" stroke="#b3b3b3" stroke-width="1.0"/>
<circle cx="764.83" cy="401.61" r="2.85" fill="none" stroke="#b3b3b3" stroke-width="1.0"/>
<circle cx="189.86" cy="596.04" r="2.85" fill="none" stroke="#b3b3b3" stroke-width="1.0"/>
<circle cx="764.83" cy="451.61" r="2.85" fill="none" stroke="#b3b3b3" stroke-width="1.0"/>
<circle cx="189.86" cy="641.79" r="2.85" fill="none" stroke="#b3b3b3" stroke-width="1.0"/>
<circle cx="764.83" cy="497.36" r="2.85" fill="none" stroke="#b3b3b3" stroke-width="1.0"/>
<circle cx="544.23" cy="793.23" r="2.55" fill="none" stroke="#bababa" stroke-width="1.7"/>
<circle cx="189.86" cy="411.12" r="2.85" fill="none" stroke="#b3b3b3" stroke-width="1.0"/>
<circle cx="866.08" cy="287.27" r="2.85" fill="none" stroke="#b3b3b3" stroke-width="1.0"/>
<circle cx="189.86" cy="423.46" r="2.85" fill="none" stroke="#b3b3b3" stroke-width="1.0"/>
<circle cx="866.08" cy="299.61" r="2.85" fill="none" stroke="#b3b3b3" stroke-width="1.0"/>
<circle cx="189.86" cy="484.21" r="2.85" fill="none" stroke="#b3b3b3" stroke-width="1.0"/>
<circle cx="866.08" cy="360.36" r="2.85" fill="none" stroke="#b3b3b3" stroke-width="1.0"/>
<circle cx="189.86" cy="487.96" r="2.85" fill="none" stroke="#b3b3b3" stroke-width="1.0"/>
<circle cx="866.08" cy="364.11" r="2.85" fill="none" stroke="#b3b3b3" stroke-width="1.0"/>
<circle cx="189.86" cy="490.96" r="2.85" fill="none" stroke="#b3b3b3" stroke-width="1.0"/>
<circle cx="866.08" cy="367.11" r="2.85" fill="none" stroke="#b3b3b3" stroke-width="1.0"/>
<circle cx="189.86" cy="501.21" r="2.85" fill="none" stroke="#b3b3b3" stroke-width="1.0"/>
<circle cx="866.08" cy="377.36" r="2.85" fill="none" stroke="#b3b3b3" stroke-width="1.0"/>
<circle cx="189.86" cy="572.21" r="2.85" fill="none" stroke="#b3b3b3" stroke-width="1.0"/>
<circle cx="866.08" cy="448.36" r="2.85" fill="none" stroke="#b3b3b3" stroke-width="1.0"/>
<circle cx="189.86" cy="607.21" r="2.85" fill="none" stroke="#b3b3b3" stroke-width="1.0"/>
<circle cx="866.08" cy="483.36" r="2.85" fill="none" stroke="#b3b3b3" stroke-width="1.0"/>
<circle cx="189.86" cy="643.21" r="2.85" fill="none" stroke="#b3b3b3" stroke-width="1.0"/>
<circle cx="866.08" cy="519.36" r="2.85" fill="none" stroke="#b3b3b3" stroke-width="1.0"/>
<circle cx="645.48" cy="813.82" r="2.55" fill="none" stroke="#bababa" stroke-width="1.7"/>
<circle cx="189.86" cy="391.64" r="2.85" fill="none" stroke="#b3b3b3" stroke-width="1.0"/>
<circle cx="967.33" cy="288.37" r="2.85" fill="none" stroke="#b3b3b3" stroke-width="1.0"/>
<circle cx="189.86" cy="411.62" r="2.85" fill="none" stroke="#b3b3b3" stroke-width="1.0"/>
<circle cx="967.33" cy="308.36" r="2.85" fill="none" stroke="#b3b3b3" stroke-width="1.0"/>
<circle cx="189.86" cy="455.62" r="2.85" fill="none" stroke="#b3b3b3" stroke-width="1.0"/>
<circle cx="967.33" cy="352.36" r="2.85" fill="none" stroke="#b3b3b3" stroke-width="1.0"/>
<circle cx="189.86" cy="468.62" r="2.85" fill="none" stroke="#b3b3b3" stroke-width="1.0"/>
<circle cx="967.33" cy="365.36" r="2.85" fill="none" stroke="#b3b3b3" stroke-width="1.0"/>
<circle cx="189.86" cy="483.88" r="2.85" fill="none" stroke="#b3b3b3" stroke-width="1.0"/>
<circle cx="967.33" cy="380.61" r="2.85" fill="none" stroke="#b3b3b3" stroke-width="1.0"/>
<circle cx="189.86" cy="512.88" r="2.85" fill="none" stroke="#b3b3b3" stroke-width="1.0"/>
<circle cx="967.33" cy="409.61" r="2.85" fill="none" stroke="#b3b3b3" stroke-width="1.0"/>
<circle cx="189.86" cy="595.62" r="2.85" fill="none" stroke="#b3b3b3" stroke-width="1.0"/>
<circle cx="967.33" cy="492.36" r="2.85" fill="none" stroke="#b3b3b3" stroke-width="1.0"/>
<circle cx="189.86" cy="618.88" r="2.85" fill="none" stroke="#b3b3b3" stroke-width="1.0"/>
<circle cx="967.33" cy="515.61" r="2.85" fill="none" stroke="#b3b3b3" stroke-width="1.0"/>
<circle cx="189.86" cy="646.88" r="2.85" fill="none" stroke="#b3b3b3" stroke-width="1.0"/>
<circle cx="967.33" cy="543.61" r="2.85" fill="none" stroke="#b3b3b3" stroke-width="1.0"/>
<circle cx="746.73" cy="834.40" r="2.55" fill="none" stroke="#bababa" stroke-width="1.7"/>
<circle cx="189.86" cy="404.15" r="2.85" fill="none" stroke="#b3b3b3" stroke-width="1.0"/>
<circle cx="1068.58" cy="321.47" r="2.85" fill="none" stroke="#b3b3b3" stroke-width="1.0"/>
<circle cx="189.86" cy="424.29" r="2.85" fill="none" stroke="#b3b3b3" stroke-width="1.0"/>
<circle cx="1068.58" cy="341.61" r="2.85" fill="none" stroke="#b3b3b3" stroke-width="1.0"/>
<circle cx="189.86" cy="466.79" r="2.85" fill="none" stroke="#b3b3b3" stroke-width="1.0"/>
<circle cx="1068.58" cy="384.11" r="2.85" fill="none" stroke="#b3b3b3" stroke-width="1.0"/>
<circle cx="189.86" cy="481.04" r="2.85" fill="none" stroke="#b3b3b3" stroke-width="1.0"/>
<circle cx="1068.58" cy="398.36" r="2.85" fill="none" stroke="#b3b3b3" stroke-width="1.0"/>
<circle cx="189.86" cy="507.29" r="2.85" fill="none" stroke="#b3b3b3" stroke-width="1.0"/>
<circle cx="1068.58" cy="424.61" r="2.85" fill="none" stroke="#b3b3b3" stroke-width="1.0"/>
<circle cx="189.86" cy="634.79" r="2.85" fill="none" stroke="#b3b3b3" stroke-width="1.0"/>
<circle cx="1068.58" cy="552.11" r="2.85" fill="none" stroke="#b3b3b3" stroke-width="1.0"/>
<circle cx="189.86" cy="650.54" r="2.85" fill="none" stroke="#b3b3b3" stroke-width="1.0"/>
<circle cx="1068.58" cy="567.86" r="2.85" fill="none" stroke="#b3b3b3" stroke-width="1.0"/>
<circle cx="189.86" cy="656.29" r="2.85" fill="none" stroke="#b3b3b3" stroke-width="1.0"/>
<circle cx="1068.58" cy="573.61" r="2.85" fill="none" stroke="#b3b3b3" stroke-width="1.0"/>
<circle cx="386.78" cy="642.44" r="2.55" fill="none" stroke="#bababa" stroke-width="1.7"/>
<circle cx="336.15" cy="333.89" r="2.85" fill="none" stroke="#b3b3b3" stroke-width="1.0"/>
<circle cx="562.33" cy="237.33" r="2.85" fill="none" stroke="#b3b3b3" stroke-width="1.0"/>
<circle cx="336.15" cy="367.71" r="2.85" fill="none" stroke="#b3b3b3" stroke-width="1.0"/>
<circle cx="562.33" cy="271.15" r="2.85" fill="none" stroke="#b3b3b3" stroke-width="1.0"/>
<circle cx="336.15" cy="377.21" r="2.85" fill="none" stroke="#b3b3b3" stroke-width="1.0"/>
<circle cx="562.33" cy="280.65" r="2.85" fill="none" stroke="#b3b3b3" stroke-width="1.0"/>
<circle cx="336.15" cy="439.21" r="2.85" fill="none" stroke="#b3b3b3" stroke-width="1.0"/>
<circle cx="562.33" cy="342.65" r="2.85" fill="none" stroke="#b3b3b3" stroke-width="1.0"/>
<circle cx="336.15" cy="452.21" r="2.85" fill="none" stroke="#b3b3b3" stroke-width="1.0"/>
<circle cx="562.33" cy="355.65" r="2.85" fill="none" stroke="#b3b3b3" stroke-width="1.0"/>
<circle cx="336.15" cy="455.71" r="2.85" fill="none" stroke="#b3b3b3" stroke-width="1.0"/>
<circle cx="562.33" cy="359.15" r="2.85" fill="none" stroke="#b3b3b3" stroke-width="1.0"/>
<circle cx="336.15" cy="466.21" r="2.85" fill="none" stroke="#b3b3b3" stroke-width="1.0"/>
<circle cx="562.33" cy="369.65" r="2.85" fill="none" stroke="#b3b3b3" stroke-width="1.0"/>
<circle cx="336.15" cy="501.21" r="2.85" fill="none" stroke="#b3b3b3" stroke-width="1.0"/>
<circle cx="562.33" cy="404.65" r="2.85" fill="none" stroke="#b3b3b3" stroke-width="1.0"/>
<circle cx="336.15" cy="552.21" r="2.85" fill="none" stroke="#b3b3b3" stroke-width="1.0"/>
<circle cx="562.33" cy="455.65" r="2.85" fill="none" stroke="#b3b3b3" stroke-width="1.0"/>
<circle cx="488.03" cy="663.02" r="2.55" fill="none" stroke="#bababa" stroke-width="1.7"/>
<circle cx="336.15" cy="349.76" r="2.85" fill="none" stroke="#b3b3b3" stroke-width="1.0"/>
<circle cx="663.58" cy="273.79" r="2.85" fill="none" stroke="#b3b3b3" stroke-width="1.0"/>
<circle cx="336.15" cy="372.13" r="2.85" fill="none" stroke="#b3b3b3" stroke-width="1.0"/>
<circle cx="663.58" cy="296.15" r="2.85" fill="none" stroke="#b3b3b3" stroke-width="1.0"/>
<circle cx="336.15" cy="393.12" r="2.85" fill="none" stroke="#b3b3b3" stroke-width="1.0"/>
<circle cx="663.58" cy="317.15" r="2.85" fill="none" stroke="#b3b3b3" stroke-width="1.0"/>
<circle cx="336.15" cy="434.12" r="2.85" fill="none" stroke="#b3b3b3" stroke-width="1.0"/>
<circle cx="663.58" cy="358.15" r="2.85" fill="none" stroke="#b3b3b3" stroke-width="1.0"/>
<circle cx="336.15" cy="447.62" r="2.85" fill="none" stroke="#b3b3b3" stroke-width="1.0"/>
<circle cx="663.58" cy="371.65" r="2.85" fill="none" stroke="#b3b3b3" stroke-width="1.0"/>
<circle cx="336.15" cy="465.62" r="2.85" fill="none" stroke="#b3b3b3" stroke-width="1.0"/>
<circle cx="663.58" cy="389.65" r="2.85" fill="none" stroke="#b3b3b3" stroke-width="1.0"/>
<circle cx="336.15" cy="484.12" r="2.85" fill="none" stroke="#b3b3b3" stroke-width="1.0"/>
<circle cx="663.58" cy="408.15" r="2.85" fill="none" stroke="#b3b3b3" stroke-width="1.0"/>
<circle cx="336.15" cy="535.38" r="2.85" fill="none" stroke="#b3b3b3" stroke-width="1.0"/>
<circle cx="663.58" cy="459.40" r="2.85" fill="none" stroke="#b3b3b3" stroke-width="1.0"/>
<circle cx="589.28" cy="683.61" r="2.55" fill="none" stroke="#bababa" stroke-width="1.7"/>
<circle cx="336.15" cy="389.43" r="2.85" fill="none" stroke="#b3b3b3" stroke-width="1.0"/>
<circle cx="764.83" cy="334.04" r="2.85" fill="none" stroke="#b3b3b3" stroke-width="1.0"/>
<circle cx="336.15" cy="393.04" r="2.85" fill="none" stroke="#b3b3b3" stroke-width="1.0"/>
<circle cx="764.83" cy="337.65" r="2.85" fill="none" stroke="#b3b3b3" stroke-width="1.0"/>
<circle cx="336.15" cy="411.04" r="2.85" fill="none" stroke="#b3b3b3" stroke-width="1.0"/>
<circle cx="764.83" cy="355.65" r="2.85" fill="none" stroke="#b3b3b3" stroke-width="1.0"/>
<circle cx="336.15" cy="414.29" r="2.85" fill="none" stroke="#b3b3b3" stroke-width="1.0"/>
<circle cx="764.83" cy="358.90" r="2.85" fill="none" stroke="#b3b3b3" stroke-width="1.0"/>
<circle cx="336.15" cy="432.79" r="2.85" fill="none" stroke="#b3b3b3" stroke-width="1.0"/>
<circle cx="764.83" cy="377.40" r="2.85" fill="none" stroke="#b3b3b3" stroke-width="1.0"/>
<circle cx="336.15" cy="453.79" r="2.85" fill="none" stroke="#b3b3b3" stroke-width="1.0"/>
<circle cx="764.83" cy="398.40" r="2.85" fill="none" stroke="#b3b3b3" stroke-width="1.0"/>
<circle cx="336.15" cy="495.54" r="2.85" fill="none" stroke="#b3b3b3" stroke-width="1.0"/>
<circle cx="764.83" cy="440.15" r="2.85" fill="none" stroke="#b3b3b3" stroke-width="1.0"/>
<circle cx="336.15" cy="539.04" r="2.85" fill="none" stroke="#b3b3b3" stroke-width="1.0"/>
<circle cx="764.83" cy="483.65" r="2.85" fill="none" stroke="#b3b3b3" stroke-width="1.0"/>
<circle cx="336.15" cy="567.04" r="2.85" fill="none" stroke="#b3b3b3" stroke-width="1.0"/>
<circle cx="764.83" cy="511.65" r="2.85" fill="none" stroke="#b3b3b3" stroke-width="1.0"/>
<circle cx="690.53" cy="704.19" r="2.55" fill="none" stroke="#bababa" stroke-width="1.7"/>
<circle cx="336.15" cy="385.19" r="2.85" fill="none" stroke="#b3b3b3" stroke-width="1.0"/>
<circle cx="866.08" cy="350.38" r="2.85" fill="none" stroke="#b3b3b3" stroke-width="1.0"/>
<circle cx="336.15" cy="405.96" r="2.85" fill="none" stroke="#b3b3b3" stroke-width="1.0"/>
<circle cx="866.08" cy="371.15" r="2.85" fill="none" stroke="#b3b3b3" stroke-width="1.0"/>
<circle cx="336.15" cy="416.21" r="2.85" fill="none" stroke="#b3b3b3" stroke-width="1.0"/>
<circle cx="866.08" cy="381.40" r="2.85" fill="none" stroke="#b3b3b3" stroke-width="1.0"/>
<circle cx="336.15" cy="426.21" r="2.85" fill="none" stroke="#b3b3b3" stroke-width="1.0"/>
<circle cx="866.08" cy="391.40" r="2.85" fill="none" stroke="#b3b3b3" stroke-width="1.0"/>
<circle cx="336.15" cy="463.46" r="2.85" fill="none" stroke="#b3b3b3" stroke-width="1.0"/>
<circle cx="866.08" cy="428.65" r="2.85" fill="none" stroke="#b3b3b3" stroke-width="1.0"/>
<circle cx="336.15" cy="474.96" r="2.85" fill="none" stroke="#b3b3b3" stroke-width="1.0"/>
<circle cx="866.08" cy="440.15" r="2.85" fill="none" stroke="#b3b3b3" stroke-width="1.0"/>
<circle cx="336.15" cy="522.21" r="2.85" fill="none" stroke="#b3b3b3" stroke-width="1.0"/>
<circle cx="866.08" cy="487.40" r="2.85" fill="none" stroke="#b3b3b3" stroke-width="1.0"/>
<circle cx="336.15" cy="528.71" r="2.85" fill="none" stroke="#b3b3b3" stroke-width="1.0"/>
<circle cx="866.08" cy="493.90" r="2.85" fill="none" stroke="#b3b3b3" stroke-width="1.0"/>
<circle cx="336.15" cy="578.21" r="2.85" fill="none" stroke="#b3b3b3" stroke-width="1.0"/>
<circle cx="866.08" cy="543.40" r="2.85" fill="none" stroke="#b3b3b3" stroke-width="1.0"/>
<circle cx="791.78" cy="724.77" r="2.55" fill="none" stroke="#bababa" stroke-width="1.7"/>
<circle cx="336.15" cy="394.56" r="2.85" fill="none" stroke="#b3b3b3" stroke-width="1.0"/>
<circle cx="967.33" cy="380.33" r="2.85" fill="none" stroke="#b3b3b3" stroke-width="1.0"/>
<circle cx="336.15" cy="399.88" r="2.85" fill="none" stroke="#b3b3b3" stroke-width="1.0"/>
<circle cx="967.33" cy="385.65" r="2.85" fill="none" stroke="#b3b3b3" stroke-width="1.0"/>
<circle cx="336.15" cy="444.88" r="2.85" fill="none" stroke="#b3b3b3" stroke-width="1.0"/>
<circle cx="967.33" cy="430.65" r="2.85" fill="none" stroke="#b3b3b3" stroke-width="1.0"/>
<circle cx="336.15" cy="464.12" r="2.85" fill="none" stroke="#b3b3b3" stroke-width="1.0"/>
<circle cx="967.33" cy="449.90" r="2.85" fill="none" stroke="#b3b3b3" stroke-width="1.0"/>
<circle cx="336.15" cy="501.62" r="2.85" fill="none" stroke="#b3b3b3" stroke-width="1.0"/>
<circle cx="967.33" cy="487.40" r="2.85" fill="none" stroke="#b3b3b3" stroke-width="1.0"/>
<circle cx="336.15" cy="541.12" r="2.85" fill="none" stroke="#b3b3b3" stroke-width="1.0"/>
<circle cx="967.33" cy="526.90" r="2.85" fill="none" stroke="#b3b3b3" stroke-width="1.0"/>
<circle cx="336.15" cy="544.38" r="2.85" fill="none" stroke="#b3b3b3" stroke-width="1.0"/>
<circle cx="967.33" cy="530.15" r="2.85" fill="none" stroke="#b3b3b3" stroke-width="1.0"/>
<circle cx="893.03" cy="745.36" r="2.55" fill="none" stroke="#bababa" stroke-width="1.7"/>
<circle cx="336.15" cy="385.68" r="2.85" fill="none" stroke="#b3b3b3" stroke-width="1.0"/>
<circle cx="1068.58" cy="392.04" r="2.85" fill="none" stroke="#b3b3b3" stroke-width="1.0"/>
<circle cx="336.15" cy="389.29" r="2.85" fill="none" stroke="#b3b3b3" stroke-width="1.0"/>
<circle cx="1068.58" cy="395.65" r="2.85" fill="none" stroke="#b3b3b3" stroke-width="1.0"/>
<circle cx="336.15" cy="396.79" r="2.85" fill="none" stroke="#b3b3b3" stroke-width="1.0"/>
<circle cx="1068.58" cy="403.15" r="2.85" fill="none" stroke="#b3b3b3" stroke-width="1.0"/>
<circle cx="336.15" cy="412.29" r="2.85" fill="none" stroke="#b3b3b3" stroke-width="1.0"/>
<circle cx="1068.58" cy="418.65" r="2.85" fill="none" stroke="#b3b3b3" stroke-width="1.0"/>
<circle cx="336.15" cy="428.04" r="2.85" fill="none" stroke="#b3b3b3" stroke-width="1.0"/>
<circle cx="1068.58" cy="434.40" r="2.85" fill="none" stroke="#b3b3b3" stroke-width="1.0"/>
<circle cx="336.15" cy="510.29" r="2.85" fill="none" stroke="#b3b3b3" stroke-width="1.0"/>
<circle cx="1068.58" cy="516.65" r="2.85" fill="none" stroke="#b3b3b3" stroke-width="1.0"/>
<circle cx="336.15" cy="555.29" r="2.85" fill="none" stroke="#b3b3b3" stroke-width="1.0"/>
<circle cx="1068.58" cy="561.65" r="2.85" fill="none" stroke="#b3b3b3" stroke-width="1.0"/>
<circle cx="336.15" cy="584.04" r="2.85" fill="none" stroke="#b3b3b3" stroke-width="1.0"/>
<circle cx="1068.58" cy="590.40" r="2.85" fill="none" stroke="#b3b3b3" stroke-width="1.0"/>
<circle cx="533.07" cy="553.40" r="2.55" fill="none" stroke="#bababa" stroke-width="1.7"/>
<circle cx="482.44" cy="303.86" r="2.85" fill="none" stroke="#b3b3b3" stroke-width="1.0"/>
<circle cx="562.33" cy="296.35" r="2.85" fill="none" stroke="#b3b3b3" stroke-width="1.0"/>
<circle cx="482.44" cy="324.71" r="2.85" fill="none" stroke="#b3b3b3" stroke-width="1.0"/>
<circle cx="562.33" cy="317.19" r="2.85" fill="none" stroke="#b3b3b3" stroke-width="1.0"/>
<circle cx="482.44" cy="330.96" r="2.85" fill="none" stroke="#b3b3b3" stroke-width="1.0"/>
<circle cx="562.33" cy="323.44" r="2.85" fill="none" stroke="#b3b3b3" stroke-width="1.0"/>
<circle cx="482.44" cy="370.21" r="2.85" fill="none" stroke="#b3b3b3" stroke-width="1.0"/>
<circle cx="562.33" cy="362.69" r="2.85" fill="none" stroke="#b3b3b3" stroke-width="1.0"/>
<circle cx="482.44" cy="375.96" r="2.85" fill="none" stroke="#b3b3b3" stroke-width="1.0"/>
<circle cx="562.33" cy="368.44" r="2.85" fill="none" stroke="#b3b3b3" stroke-width="1.0"/>
<circle cx="482.44" cy="379.71" r="2.85" fill="none" stroke="#b3b3b3" stroke-width="1.0"/>
<circle cx="562.33" cy="372.19" r="2.85" fill="none" stroke="#b3b3b3" stroke-width="1.0"/>
<circle cx="482.44" cy="387.96" r="2.85" fill="none" stroke="#b3b3b3" stroke-width="1.0"/>
<circle cx="562.33" cy="380.44" r="2.85" fill="none" stroke="#b3b3b3" stroke-width="1.0"/>
<circle cx="482.44" cy="393.46" r="2.85" fill="none" stroke="#b3b3b3" stroke-width="1.0"/>
<circle cx="562.33" cy="385.94" r="2.85" fill="none" stroke="#b3b3b3" stroke-width="1.0"/>
<circle cx="482.44" cy="423.21" r="2.85" fill="none" stroke="#b3b3b3" stroke-width="1.0"/>
<circle cx="562.33" cy="415.69" r="2.85" fill="none" stroke="#b3b3b3" stroke-width="1.0"/>
<circle cx="634.32" cy="573.98" r="2.55" fill="none" stroke="#bababa" stroke-width="1.7"/>
<circle cx="482.44" cy="322.74" r="2.85" fill="none" stroke="#b3b3b3" stroke-width="1.0"/>
<circle cx="663.58" cy="335.80" r="2.85" fill="none" stroke="#b3b3b3" stroke-width="1.0"/>
<circle cx="482.44" cy="333.38" r="2.85" fill="none" stroke="#b3b3b3" stroke-width="1.0"/>
<circle cx="663.58" cy="346.44" r="2.85" fill="none" stroke="#b3b3b3" stroke-width="1.0"/>
<circle cx="482.44" cy="339.62" r="2.85" fill="none" stroke="#b3b3b3" stroke-width="1.0"/>
<circle cx="663.58" cy="352.69" r="2.85" fill="none" stroke="#b3b3b3" stroke-width="1.0"/>
<circle cx="482.44" cy="375.88" r="2.85" fill="none" stroke="#b3b3b3" stroke-width="1.0"/>
<circle cx="663.58" cy="388.94" r="2.85" fill="none" stroke="#b3b3b3" stroke-width="1.0"/>
<circle cx="482.44" cy="383.38" r="2.85" fill="none" stroke="#b3b3b3" stroke-width="1.0"/>
<circle cx="663.58" cy="396.44" r="2.85" fill="none" stroke="#b3b3b3" stroke-width="1.0"/>
<circle cx="482.44" cy="416.62" r="2.85" fill="none" stroke="#b3b3b3" stroke-width="1.0"/>
<circle cx="663.58" cy="429.69" r="2.85" fill="none" stroke="#b3b3b3" stroke-width="1.0"/>
<circle cx="482.44" cy="449.62" r="2.85" fill="none" stroke="#b3b3b3" stroke-width="1.0"/>
<circle cx="663.58" cy="462.69" r="2.85" fill="none" stroke="#b3b3b3" stroke-width="1.0"/>
<circle cx="735.57" cy="594.57" r="2.55" fill="none" stroke="#bababa" stroke-width="1.7"/>
<circle cx="482.44" cy="339.00" r="2.85" fill="none" stroke="#b3b3b3" stroke-width="1.0"/>
<circle cx="764.83" cy="372.65" r="2.85" fill="none" stroke="#b3b3b3" stroke-width="1.0"/>
<circle cx="482.44" cy="346.54" r="2.85" fill="none" stroke="#b3b3b3" stroke-width="1.0"/>
<circle cx="764.83" cy="380.19" r="2.85" fill="none" stroke="#b3b3b3" stroke-width="1.0"/>
<circle cx="482.44" cy="349.79" r="2.85" fill="none" stroke="#b3b3b3" stroke-width="1.0"/>
<circle cx="764.83" cy="383.44" r="2.85" fill="none" stroke="#b3b3b3" stroke-width="1.0"/>
<circle cx="482.44" cy="359.79" r="2.85" fill="none" stroke="#b3b3b3" stroke-width="1.0"/>
<circle cx="764.83" cy="393.44" r="2.85" fill="none" stroke="#b3b3b3" stroke-width="1.0"/>
<circle cx="482.44" cy="402.29" r="2.85" fill="none" stroke="#b3b3b3" stroke-width="1.0"/>
<circle cx="764.83" cy="435.94" r="2.85" fill="none" stroke="#b3b3b3" stroke-width="1.0"/>
<circle cx="482.44" cy="407.29" r="2.85" fill="none" stroke="#b3b3b3" stroke-width="1.0"/>
<circle cx="764.83" cy="440.94" r="2.85" fill="none" stroke="#b3b3b3" stroke-width="1.0"/>
<circle cx="482.44" cy="422.29" r="2.85" fill="none" stroke="#b3b3b3" stroke-width="1.0"/>
<circle cx="764.83" cy="455.94" r="2.85" fill="none" stroke="#b3b3b3" stroke-width="1.0"/>
<circle cx="836.82" cy="615.15" r="2.55" fill="none" stroke="#bababa" stroke-width="1.7"/>
<circle cx="482.44" cy="343.52" r="2.85" fill="none" stroke="#b3b3b3" stroke-width="1.0"/>
<circle cx="866.08" cy="397.75" r="2.85" fill="none" stroke="#b3b3b3" stroke-width="1.0"/>
<circle cx="482.44" cy="346.71" r="2.85" fill="none" stroke="#b3b3b3" stroke-width="1.0"/>
<circle cx="866.08" cy="400.94" r="2.85" fill="none" stroke="#b3b3b3" stroke-width="1.0"/>
<circle cx="482.44" cy="349.21" r="2.85" fill="none" stroke="#b3b3b3" stroke-width="1.0"/>
<circle cx="866.08" cy="403.44" r="2.85" fill="none" stroke="#b3b3b3" stroke-width="1.0"/>
<circle cx="482.44" cy="359.21" r="2.85" fill="none" stroke="#b3b3b3" stroke-width="1.0"/>
<circle cx="866.08" cy="413.44" r="2.85" fill="none" stroke="#b3b3b3" stroke-width="1.0"/>
<circle cx="482.44" cy="367.21" r="2.85" fill="none" stroke="#b3b3b3" stroke-width="1.0"/>
<circle cx="866.08" cy="421.44" r="2.85" fill="none" stroke="#b3b3b3" stroke-width="1.0"/>
<circle cx="482.44" cy="385.46" r="2.85" fill="none" stroke="#b3b3b3" stroke-width="1.0"/>
<circle cx="866.08" cy="439.69" r="2.85" fill="none" stroke="#b3b3b3" stroke-width="1.0"/>
<circle cx="482.44" cy="425.46" r="2.85" fill="none" stroke="#b3b3b3" stroke-width="1.0"/>
<circle cx="866.08" cy="479.69" r="2.85" fill="none" stroke="#b3b3b3" stroke-width="1.0"/>
<circle cx="482.44" cy="501.21" r="2.85" fill="none" stroke="#b3b3b3" stroke-width="1.0"/>
<circle cx="866.08" cy="555.44" r="2.85" fill="none" stroke="#b3b3b3" stroke-width="1.0"/>
<circle cx="938.07" cy="635.73" r="2.55" fill="none" stroke="#bababa" stroke-width="1.7"/>
<circle cx="482.44" cy="346.89" r="2.85" fill="none" stroke="#b3b3b3" stroke-width="1.0"/>
<circle cx="967.33" cy="421.71" r="2.85" fill="none" stroke="#b3b3b3" stroke-width="1.0"/>
<circle cx="482.44" cy="356.88" r="2.85" fill="none" stroke="#b3b3b3" stroke-width="1.0"/>
<circle cx="967.33" cy="431.69" r="2.85" fill="none" stroke="#b3b3b3" stroke-width="1.0"/>
<circle cx="482.44" cy="359.88" r="2.85" fill="none" stroke="#b3b3b3" stroke-width="1.0"/>
<circle cx="967.33" cy="434.69" r="2.85" fill="none" stroke="#b3b3b3" stroke-width="1.0"/>
<circle cx="482.44" cy="374.88" r="2.85" fill="none" stroke="#b3b3b3" stroke-width="1.0"/>
<circle cx="967.33" cy="449.69" r="2.85" fill="none" stroke="#b3b3b3" stroke-width="1.0"/>
<circle cx="482.44" cy="412.88" r="2.85" fill="none" stroke="#b3b3b3" stroke-width="1.0"/>
<circle cx="967.33" cy="487.69" r="2.85" fill="none" stroke="#b3b3b3" stroke-width="1.0"/>
<circle cx="482.44" cy="455.62" r="2.85" fill="none" stroke="#b3b3b3" stroke-width="1.0"/>
<circle cx="967.33" cy="530.44" r="2.85" fill="none" stroke="#b3b3b3" stroke-width="1.0"/>
<circle cx="1039.32" cy="656.32" r="2.55" fill="none" stroke="#bababa" stroke-width="1.7"/>
<circle cx="482.44" cy="361.15" r="2.85" fill="none" stroke="#b3b3b3" stroke-width="1.0"/>
<circle cx="1068.58" cy="456.55" r="2.85" fill="none" stroke="#b3b3b3" stroke-width="1.0"/>
<circle cx="482.44" cy="374.29" r="2.85" fill="none" stroke="#b3b3b3" stroke-width="1.0"/>
<circle cx="1068.58" cy="469.69" r="2.85" fill="none" stroke="#b3b3b3" stroke-width="1.0"/>
<circle cx="482.44" cy="381.04" r="2.85" fill="none" stroke="#b3b3b3" stroke-width="1.0"/>
<circle cx="1068.58" cy="476.44" r="2.85" fill="none" stroke="#b3b3b3" stroke-width="1.0"/>
<circle cx="482.44" cy="384.79" r="2.85" fill="none" stroke="#b3b3b3" stroke-width="1.0"/>
<circle cx="1068.58" cy="480.19" r="2.85" fill="none" stroke="#b3b3b3" stroke-width="1.0"/>
<circle cx="482.44" cy="396.04" r="2.85" fill="none" stroke="#b3b3b3" stroke-width="1.0"/>
<circle cx="1068.58" cy="491.44" r="2.85" fill="none" stroke="#b3b3b3" stroke-width="1.0"/>
<circle cx="482.44" cy="450.04" r="2.85" fill="none" stroke="#b3b3b3" stroke-width="1.0"/>
<circle cx="1068.58" cy="545.44" r="2.85" fill="none" stroke="#b3b3b3" stroke-width="1.0"/>
<circle cx="482.44" cy="473.04" r="2.85" fill="none" stroke="#b3b3b3" stroke-width="1.0"/>
<circle cx="1068.58" cy="568.44" r="2.85" fill="none" stroke="#b3b3b3" stroke-width="1.0"/>
<circle cx="240.48" cy="348.50" r="4.4" fill="#239b06"/>
<circle cx="240.48" cy="349.75" r="4.4" fill="#239b06"/>
<circle cx="240.48" cy="351.00" r="4.4" fill="#239b06"/>
<circle cx="240.48" cy="352.25" r="4.4" fill="#239b06"/>
<circle cx="240.48" cy="353.50" r="4.4" fill="#239b06"/>
<circle cx="240.48" cy="354.75" r="4.4" fill="#239b06"/>
<circle cx="240.48" cy="356.00" r="4.4" fill="#239b06"/>
<circle cx="240.48" cy="357.25" r="4.4" fill="#239b06"/>
<circle cx="240.48" cy="358.50" r="4.4" fill="#239b06"/>
<circle cx="240.48" cy="359.75" r="4.4" fill="#239b06"/>
<circle cx="240.48" cy="361.00" r="4.4" fill="#239b06"/>
<circle cx="240.48" cy="362.25" r="4.4" fill="#239b06"/>
<circle cx="240.48" cy="363.50" r="4.4" fill="#239b06"/>
<circle cx="240.48" cy="389.40" r="4.4" fill="#239b06"/>
<circle cx="240.48" cy="406.00" r="4.4" fill="#239b06"/>
<circle cx="240.48" cy="419.00" r="4.4" fill="#239b06"/>
<circle cx="240.48" cy="422.50" r="4.4" fill="#239b06"/>
<circle cx="240.48" cy="621.25" r="4.4" fill="#239b06"/>
<circle cx="240.48" cy="347.50" r="4.4" fill="#239b06"/>
<circle cx="240.48" cy="349.00" r="4.4" fill="#239b06"/>
<circle cx="240.48" cy="350.50" r="4.4" fill="#239b06"/>
<circle cx="240.48" cy="352.00" r="4.4" fill="#239b06"/>
<circle cx="240.48" cy="353.50" r="4.4" fill="#239b06"/>
<circle cx="240.48" cy="355.00" r="4.4" fill="#239b06"/>
<circle cx="240.48" cy="356.50" r="4.4" fill="#239b06"/>
<circle cx="240.48" cy="358.00" r="4.4" fill="#239b06"/>
<circle cx="240.48" cy="359.50" r="4.4" fill="#239b06"/>
<circle cx="240.48" cy="361.00" r="4.4" fill="#239b06"/>
<circle cx="242.50" cy="346.50" r="4.4" fill="#239b06"/>
<circle cx="242.50" cy="348.00" r="4.4" fill="#239b06"/>
<circle cx="242.50" cy="349.50" r="4.4" fill="#239b06"/>
<circle cx="242.50" cy="351.00" r="4.4" fill="#239b06"/>
<circle cx="242.50" cy="352.50" r="4.4" fill="#239b06"/>
<circle cx="242.50" cy="354.00" r="4.4" fill="#239b06"/>
<circle cx="242.50" cy="355.50" r="4.4" fill="#239b06"/>
<circle cx="242.50" cy="357.00" r="4.4" fill="#239b06"/>
<circle cx="242.50" cy="358.50" r="4.4" fill="#239b06"/>
<circle cx="242.50" cy="360.00" r="4.4" fill="#239b06"/>
<circle cx="243.50" cy="345.50" r="4.4" fill="#239b06"/>
<circle cx="243.50" cy="347.00" r="4.4" fill="#239b06"/>
<circle cx="243.50" cy="348.50" r="4.4" fill="#239b06"/>
<circle cx="243.50" cy="350.00" r="4.4" fill="#239b06"/>
<circle cx="243.50" cy="351.50" r="4.4" fill="#239b06"/>
<circle cx="243.50" cy="353.00" r="4.4" fill="#239b06"/>
<circle cx="243.50" cy="354.50" r="4.4" fill="#239b06"/>
<circle cx="243.50" cy="356.00" r="4.4" fill="#239b06"/>
<circle cx="243.50" cy="357.50" r="4.4" fill="#239b06"/>
<circle cx="244.50" cy="344.50" r="4.4" fill="#239b06"/>
<circle cx="244.50" cy="346.00" r="4.4" fill="#239b06"/>
<circle cx="244.50" cy="347.50" r="4.4" fill="#239b06"/>
<circle cx="244.50" cy="349.00" r="4.4" fill="#239b06"/>
<circle cx="244.50" cy="350.50" r="4.4" fill="#239b06"/>
<circle cx="244.50" cy="352.00" r="4.4" fill="#239b06"/>
<circle cx="244.50" cy="353.50" r="4.4" fill="#239b06"/>
<circle cx="244.50" cy="355.00" r="4.4" fill="#239b06"/>
<circle cx="244.50" cy="356.50" r="4.4" fill="#239b06"/>
<circle cx="245.50" cy="344.00" r="4.4" fill="#239b06"/>
<circle cx="245.50" cy="345.50" r="4.4" fill="#239b06"/>
<circle cx="245.50" cy="347.00" r="4.4" fill="#239b06"/>
<circle cx="245.50" cy="348.50" r="4.4" fill="#239b06"/>
<circle cx="245.50" cy="350.00" r="4.4" fill="#239b06"/>
<circle cx="245.50" cy="351.50" r="4.4" fill="#239b06"/>
<circle cx="245.50" cy="353.00" r="4.4" fill="#239b06"/>
<circle cx="245.50" cy="354.50" r="4.4" fill="#239b06"/>
<circle cx="245.50" cy="356.00" r="4.4" fill="#239b06"/>
<circle cx="246.40" cy="343.50" r="4.4" fill="#239b06"/>
<circle cx="246.40" cy="345.00" r="4.4" fill="#239b06"/>
<circle cx="246.40" cy="346.50" r="4.4" fill="#239b06"/>
<circle cx="246.40" cy="348.00" r="4.4" fill="#239b06"/>
<circle cx="246.40" cy="349.50" r="4.4" fill="#239b06"/>
<circle cx="246.40" cy="351.00" r="4.4" fill="#239b06"/>
<circle cx="246.40" cy="352.50" r="4.4" fill="#239b06"/>
<circle cx="246.40" cy="354.00" r="4.4" fill="#239b06"/>
<circle cx="246.40" cy="355.50" r="4.4" fill="#239b06"/>
<circle cx="248.30" cy="346.00" r="4.4" fill="#239b06"/>
<circle cx="248.30" cy="352.00" r="4.4" fill="#239b06"/>
<circle cx="253.56" cy="343.70" r="4.4" fill="#239b06"/>
<circle cx="253.56" cy="345.70" r="4.4" fill="#239b06"/>
<circle cx="253.56" cy="347.70" r="4.4" fill="#239b06"/>
<circle cx="253.56" cy="349.70" r="4.4" fill="#239b06"/>
<circle cx="253.56" cy="351.70" r="4.4" fill="#239b06"/>
<circle cx="253.56" cy="353.70" r="4.4" fill="#239b06"/>
<circle cx="253.56" cy="355.70" r="4.4" fill="#239b06"/>
<circle cx="262.37" cy="339.40" r="4.4" fill="#239b06"/>
<circle cx="262.37" cy="347.25" r="4.4" fill="#239b06"/>
<circle cx="262.37" cy="364.50" r="4.4" fill="#239b06"/>
<circle cx="262.37" cy="375.40" r="4.4" fill="#239b06"/>
<circle cx="275.36" cy="333.50" r="4.4" fill="#239b06"/>
<circle cx="275.36" cy="340.40" r="4.4" fill="#239b06"/>
<circle cx="275.36" cy="358.50" r="4.4" fill="#239b06"/>
<circle cx="275.36" cy="370.50" r="4.4" fill="#239b06"/>
<circle cx="275.36" cy="386.00" r="4.4" fill="#239b06"/>
<circle cx="296.43" cy="324.00" r="4.4" fill="#239b06"/>
<circle cx="296.43" cy="332.50" r="4.4" fill="#239b06"/>
<circle cx="296.43" cy="348.50" r="4.4" fill="#239b06"/>
<circle cx="296.43" cy="356.30" r="4.4" fill="#239b06"/>
<circle cx="296.43" cy="367.40" r="4.4" fill="#239b06"/>
<circle cx="296.43" cy="387.50" r="4.4" fill="#239b06"/>
<circle cx="296.43" cy="398.00" r="4.4" fill="#239b06"/>
<circle cx="296.43" cy="402.50" r="4.4" fill="#239b06"/>
<circle cx="330.75" cy="327.00" r="4.4" fill="#239b06"/>
<circle cx="330.75" cy="339.00" r="4.4" fill="#239b06"/>
<circle cx="330.75" cy="399.50" r="4.4" fill="#239b06"/>
<circle cx="330.75" cy="405.00" r="4.4" fill="#239b06"/>
<circle cx="330.75" cy="478.00" r="4.4" fill="#239b06"/>
<circle cx="330.75" cy="545.00" r="4.4" fill="#239b06"/>
<circle cx="341.73" cy="358.50" r="4.4" fill="#239b06"/>
<circle cx="341.73" cy="360.00" r="4.4" fill="#239b06"/>
<circle cx="341.73" cy="361.50" r="4.4" fill="#239b06"/>
<circle cx="341.73" cy="363.00" r="4.4" fill="#239b06"/>
<circle cx="341.73" cy="364.50" r="4.4" fill="#239b06"/>
<circle cx="341.73" cy="366.00" r="4.4" fill="#239b06"/>
<circle cx="341.73" cy="367.50" r="4.4" fill="#239b06"/>
<circle cx="341.73" cy="369.00" r="4.4" fill="#239b06"/>
<circle cx="341.73" cy="370.50" r="4.4" fill="#239b06"/>
<circle cx="341.73" cy="372.00" r="4.4" fill="#239b06"/>
<circle cx="341.73" cy="373.50" r="4.4" fill="#239b06"/>
<circle cx="341.73" cy="375.00" r="4.4" fill="#239b06"/>
<circle cx="341.73" cy="376.50" r="4.4" fill="#239b06"/>
<circle cx="341.73" cy="378.00" r="4.4" fill="#239b06"/>
<circle cx="341.73" cy="389.00" r="4.4" fill="#239b06"/>
<circle cx="341.73" cy="408.00" r="4.4" fill="#239b06"/>
<circle cx="341.73" cy="461.00" r="4.4" fill="#239b06"/>
<circle cx="341.73" cy="464.00" r="4.4" fill="#239b06"/>
<circle cx="341.73" cy="618.25" r="4.4" fill="#239b06"/>
<circle cx="341.73" cy="358.00" r="4.4" fill="#239b06"/>
<circle cx="341.73" cy="359.50" r="4.4" fill="#239b06"/>
<circle cx="341.73" cy="361.00" r="4.4" fill="#239b06"/>
<circle cx="341.73" cy="362.50" r="4.4" fill="#239b06"/>
<circle cx="341.73" cy="364.00" r="4.4" fill="#239b06"/>
<circle cx="341.73" cy="365.50" r="4.4" fill="#239b06"/>
<circle cx="341.73" cy="367.00" r="4.4" fill="#239b06"/>
<circle cx="341.73" cy="368.50" r="4.4" fill="#239b06"/>
<circle cx="341.73" cy="370.00" r="4.4" fill="#239b06"/>
<circle cx="341.73" cy="371.50" r="4.4" fill="#239b06"/>
<circle cx="341.73" cy="373.00" r="4.4" fill="#239b06"/>
<circle cx="341.73" cy="374.50" r="4.4" fill="#239b06"/>
<circle cx="341.73" cy="376.00" r="4.4" fill="#239b06"/>
<circle cx="341.73" cy="377.50" r="4.4" fill="#239b06"/>
<circle cx="344.50" cy="357.50" r="4.4" fill="#239b06"/>
<circle cx="344.50" cy="359.00" r="4.4" fill="#239b06"/>
<circle cx="344.50" cy="360.50" r="4.4" fill="#239b06"/>
<circle cx="344.50" cy="362.00" r="4.4" fill="#239b06"/>
<circle cx="344.50" cy="363.50" r="4.4" fill="#239b06"/>
<circle cx="344.50" cy="365.00" r="4.4" fill="#239b06"/>
<circle cx="344.50" cy="366.50" r="4.4" fill="#239b06"/>
<circle cx="344.50" cy="368.00" r="4.4" fill="#239b06"/>
<circle cx="344.50" cy="369.50" r="4.4" fill="#239b06"/>
<circle cx="344.50" cy="371.00" r="4.4" fill="#239b06"/>
<circle cx="344.50" cy="372.50" r="4.4" fill="#239b06"/>
<circle cx="344.50" cy="374.00" r="4.4" fill="#239b06"/>
<circle cx="344.50" cy="375.50" r="4.4" fill="#239b06"/>
<circle cx="344.50" cy="377.00" r="4.4" fill="#239b06"/>
<circle cx="344.50" cy="378.50" r="4.4" fill="#239b06"/>
<circle cx="346.00" cy="357.00" r="4.4" fill="#239b06"/>
<circle cx="346.00" cy="358.50" r="4.4" fill="#239b06"/>
<circle cx="346.00" cy="360.00" r="4.4" fill="#239b06"/>
<circle cx="346.00" cy="361.50" r="4.4" fill="#239b06"/>
<circle cx="346.00" cy="363.00" r="4.4" fill="#239b06"/>
<circle cx="346.00" cy="364.50" r="4.4" fill="#239b06"/>
<circle cx="346.00" cy="366.00" r="4.4" fill="#239b06"/>
<circle cx="346.00" cy="367.50" r="4.4" fill="#239b06"/>
<circle cx="346.00" cy="369.00" r="4.4" fill="#239b06"/>
<circle cx="346.00" cy="370.50" r="4.4" fill="#239b06"/>
<circle cx="346.00" cy="372.00" r="4.4" fill="#239b06"/>
<circle cx="346.00" cy="373.50" r="4.4" fill="#239b06"/>
<circle cx="346.00" cy="375.00" r="4.4" fill="#239b06"/>
<circle cx="346.00" cy="376.50" r="4.4" fill="#239b06"/>
<circle cx="346.00" cy="378.00" r="4.4" fill="#239b06"/>
<circle cx="347.50" cy="356.50" r="4.4" fill="#239b06"/>
<circle cx="347.50" cy="358.00" r="4.4" fill="#239b06"/>
<circle cx="347.50" cy="359.50" r="4.4" fill="#239b06"/>
<circle cx="347.50" cy="361.00" r="4.4" fill="#239b06"/>
<circle cx="347.50" cy="362.50" r="4.4" fill="#239b06"/>
<circle cx="347.50" cy="364.00" r="4.4" fill="#239b06"/>
<circle cx="347.50" cy="365.50" r="4.4" fill="#239b06"/>
<circle cx="347.50" cy="367.00" r="4.4" fill="#239b06"/>
<circle cx="347.50" cy="368.50" r="4.4" fill="#239b06"/>
<circle cx="347.50" cy="370.00" r="4.4" fill="#239b06"/>
<circle cx="347.50" cy="371.50" r="4.4" fill="#239b06"/>
<circle cx="347.50" cy="373.00" r="4.4" fill="#239b06"/>
<circle cx="347.50" cy="374.50" r="4.4" fill="#239b06"/>
<circle cx="347.50" cy="376.00" r="4.4" fill="#239b06"/>
<circle cx="347.50" cy="377.50" r="4.4" fill="#239b06"/>
<circle cx="347.50" cy="379.00" r="4.4" fill="#239b06"/>
<circle cx="349.00" cy="356.50" r="4.4" fill="#239b06"/>
<circle cx="349.00" cy="358.00" r="4.4" fill="#239b06"/>
<circle cx="349.00" cy="359.50" r="4.4" fill="#239b06"/>
<circle cx="349.00" cy="361.00" r="4.4" fill="#239b06"/>
<circle cx="349.00" cy="362.50" r="4.4" fill="#239b06"/>
<circle cx="349.00" cy="364.00" r="4.4" fill="#239b06"/>
<circle cx="349.00" cy="365.50" r="4.4" fill="#239b06"/>
<circle cx="349.00" cy="367.00" r="4.4" fill="#239b06"/>
<circle cx="349.00" cy="368.50" r="4.4" fill="#239b06"/>
<circle cx="349.00" cy="370.00" r="4.4" fill="#239b06"/>
<circle cx="349.00" cy="371.50" r="4.4" fill="#239b06"/>
<circle cx="349.00" cy="373.00" r="4.4" fill="#239b06"/>
<circle cx="349.00" cy="374.50" r="4.4" fill="#239b06"/>
<circle cx="349.00" cy="376.00" r="4.4" fill="#239b06"/>
<circle cx="349.00" cy="377.50" r="4.4" fill="#239b06"/>
<circle cx="349.00" cy="379.00" r="4.4" fill="#239b06"/>
<circle cx="350.40" cy="357.00" r="4.4" fill="#239b06"/>
<circle cx="350.40" cy="358.50" r="4.4" fill="#239b06"/>
<circle cx="350.40" cy="360.00" r="4.4" fill="#239b06"/>
<circle cx="350.40" cy="361.50" r="4.4" fill="#239b06"/>
<circle cx="350.40" cy="363.00" r="4.4" fill="#239b06"/>
<circle cx="350.40" cy="364.50" r="4.4" fill="#239b06"/>
<circle cx="350.40" cy="366.00" r="4.4" fill="#239b06"/>
<circle cx="350.40" cy="367.50" r="4.4" fill="#239b06"/>
<circle cx="350.40" cy="372.50" r="4.4" fill="#239b06"/>
<circle cx="350.40" cy="374.00" r="4.4" fill="#239b06"/>
<circle cx="350.40" cy="375.50" r="4.4" fill="#239b06"/>
<circle cx="350.40" cy="377.00" r="4.4" fill="#239b06"/>
<circle cx="350.40" cy="378.50" r="4.4" fill="#239b06"/>
<circle cx="354.81" cy="355.40" r="4.4" fill="#239b06"/>
<circle cx="354.81" cy="357.50" r="4.4" fill="#239b06"/>
<circle cx="354.81" cy="359.70" r="4.4" fill="#239b06"/>
<circle cx="354.81" cy="362.25" r="4.4" fill="#239b06"/>
<circle cx="354.81" cy="374.75" r="4.4" fill="#239b06"/>
<circle cx="354.81" cy="377.00" r="4.4" fill="#239b06"/>
<circle cx="354.81" cy="379.00" r="4.4" fill="#239b06"/>
<circle cx="354.81" cy="381.30" r="4.4" fill="#239b06"/>
<circle cx="363.62" cy="358.40" r="4.4" fill="#239b06"/>
<circle cx="363.62" cy="374.40" r="4.4" fill="#239b06"/>
<circle cx="363.62" cy="378.50" r="4.4" fill="#239b06"/>
<circle cx="363.62" cy="415.50" r="4.4" fill="#239b06"/>
<circle cx="363.62" cy="421.25" r="4.4" fill="#239b06"/>
<circle cx="376.61" cy="370.40" r="4.4" fill="#239b06"/>
<circle cx="376.61" cy="376.00" r="4.4" fill="#239b06"/>
<circle cx="376.61" cy="388.40" r="4.4" fill="#239b06"/>
<circle cx="376.61" cy="406.25" r="4.4" fill="#239b06"/>
<circle cx="376.61" cy="414.25" r="4.4" fill="#239b06"/>
<circle cx="397.68" cy="346.40" r="4.4" fill="#239b06"/>
<circle cx="397.68" cy="368.50" r="4.4" fill="#239b06"/>
<circle cx="397.68" cy="371.30" r="4.4" fill="#239b06"/>
<circle cx="397.68" cy="384.40" r="4.4" fill="#239b06"/>
<circle cx="397.68" cy="432.50" r="4.4" fill="#239b06"/>
<circle cx="397.68" cy="437.00" r="4.4" fill="#239b06"/>
<circle cx="432.00" cy="371.00" r="4.4" fill="#239b06"/>
<circle cx="432.00" cy="377.00" r="4.4" fill="#239b06"/>
<circle cx="432.00" cy="430.00" r="4.4" fill="#239b06"/>
<circle cx="432.00" cy="442.50" r="4.4" fill="#239b06"/>
<circle cx="432.00" cy="497.50" r="4.4" fill="#239b06"/>
<circle cx="432.00" cy="547.00" r="4.4" fill="#239b06"/>
<circle cx="189.86" cy="338.22" r="2.85" fill="none" stroke="#b3b3b3" stroke-width="1.0"/>
<circle cx="562.33" cy="152.62" r="2.85" fill="none" stroke="#b3b3b3" stroke-width="1.0"/>
<circle cx="189.86" cy="339.46" r="2.85" fill="none" stroke="#b3b3b3" stroke-width="1.0"/>
<circle cx="562.33" cy="153.86" r="2.85" fill="none" stroke="#b3b3b3" stroke-width="1.0"/>
<circle cx="189.86" cy="340.71" r="2.85" fill="none" stroke="#b3b3b3" stroke-width="1.0"/>
<circle cx="562.33" cy="155.11" r="2.85" fill="none" stroke="#b3b3b3" stroke-width="1.0"/>
<circle cx="189.86" cy="341.96" r="2.85" fill="none" stroke="#b3b3b3" stroke-width="1.0"/>
<circle cx="562.33" cy="156.36" r="2.85" fill="none" stroke="#b3b3b3" stroke-width="1.0"/>
<circle cx="189.86" cy="343.21" r="2.85" fill="none" stroke="#b3b3b3" stroke-width="1.0"/>
<circle cx="562.33" cy="157.61" r="2.85" fill="none" stroke="#b3b3b3" stroke-width="1.0"/>
<circle cx="189.86" cy="344.46" r="2.85" fill="none" stroke="#b3b3b3" stroke-width="1.0"/>
<circle cx="562.33" cy="158.86" r="2.85" fill="none" stroke="#b3b3b3" stroke-width="1.0"/>
<circle cx="189.86" cy="345.71" r="2.85" fill="none" stroke="#b3b3b3" stroke-width="1.0"/>
<circle cx="562.33" cy="160.11" r="2.85" fill="none" stroke="#b3b3b3" stroke-width="1.0"/>
<circle cx="189.86" cy="346.96" r="2.85" fill="none" stroke="#b3b3b3" stroke-width="1.0"/>
<circle cx="562.33" cy="161.36" r="2.85" fill="none" stroke="#b3b3b3" stroke-width="1.0"/>
<circle cx="189.86" cy="348.21" r="2.85" fill="none" stroke="#b3b3b3" stroke-width="1.0"/>
<circle cx="562.33" cy="162.61" r="2.85" fill="none" stroke="#b3b3b3" stroke-width="1.0"/>
<circle cx="189.86" cy="349.46" r="2.85" fill="none" stroke="#b3b3b3" stroke-width="1.0"/>
<circle cx="562.33" cy="163.86" r="2.85" fill="none" stroke="#b3b3b3" stroke-width="1.0"/>
<circle cx="189.86" cy="350.71" r="2.85" fill="none" stroke="#b3b3b3" stroke-width="1.0"/>
<circle cx="562.33" cy="165.11" r="2.85" fill="none" stroke="#b3b3b3" stroke-width="1.0"/>
<circle cx="189.86" cy="351.96" r="2.85" fill="none" stroke="#b3b3b3" stroke-width="1.0"/>
<circle cx="562.33" cy="166.36" r="2.85" fill="none" stroke="#b3b3b3" stroke-width="1.0"/>
<circle cx="189.86" cy="353.21" r="2.85" fill="none" stroke="#b3b3b3" stroke-width="1.0"/>
<circle cx="562.33" cy="167.61" r="2.85" fill="none" stroke="#b3b3b3" stroke-width="1.0"/>
<circle cx="189.86" cy="379.11" r="2.85" fill="none" stroke="#b3b3b3" stroke-width="1.0"/>
<circle cx="562.33" cy="193.51" r="2.85" fill="none" stroke="#b3b3b3" stroke-width="1.0"/>
<circle cx="189.86" cy="395.71" r="2.85" fill="none" stroke="#b3b3b3" stroke-width="1.0"/>
<circle cx="562.33" cy="210.11" r="2.85" fill="none" stroke="#b3b3b3" stroke-width="1.0"/>
<circle cx="189.86" cy="408.71" r="2.85" fill="none" stroke="#b3b3b3" stroke-width="1.0"/>
<circle cx="562.33" cy="223.11" r="2.85" fill="none" stroke="#b3b3b3" stroke-width="1.0"/>
<circle cx="189.86" cy="412.21" r="2.85" fill="none" stroke="#b3b3b3" stroke-width="1.0"/>
<circle cx="562.33" cy="226.61" r="2.85" fill="none" stroke="#b3b3b3" stroke-width="1.0"/>
<circle cx="189.86" cy="610.96" r="2.85" fill="none" stroke="#b3b3b3" stroke-width="1.0"/>
<circle cx="562.33" cy="425.36" r="2.85" fill="none" stroke="#b3b3b3" stroke-width="1.0"/>
<circle cx="189.86" cy="337.83" r="2.85" fill="none" stroke="#b3b3b3" stroke-width="1.0"/>
<circle cx="562.33" cy="152.23" r="2.85" fill="none" stroke="#b3b3b3" stroke-width="1.0"/>
<circle cx="189.86" cy="338.71" r="2.85" fill="none" stroke="#b3b3b3" stroke-width="1.0"/>
<circle cx="562.33" cy="153.11" r="2.85" fill="none" stroke="#b3b3b3" stroke-width="1.0"/>
<circle cx="189.86" cy="340.21" r="2.85" fill="none" stroke="#b3b3b3" stroke-width="1.0"/>
<circle cx="562.33" cy="154.61" r="2.85" fill="none" stroke="#b3b3b3" stroke-width="1.0"/>
<circle cx="189.86" cy="341.71" r="2.85" fill="none" stroke="#b3b3b3" stroke-width="1.0"/>
<circle cx="562.33" cy="156.11" r="2.85" fill="none" stroke="#b3b3b3" stroke-width="1.0"/>
<circle cx="189.86" cy="343.21" r="2.85" fill="none" stroke="#b3b3b3" stroke-width="1.0"/>
<circle cx="562.33" cy="157.61" r="2.85" fill="none" stroke="#b3b3b3" stroke-width="1.0"/>
<circle cx="189.86" cy="344.71" r="2.85" fill="none" stroke="#b3b3b3" stroke-width="1.0"/>
<circle cx="562.33" cy="159.11" r="2.85" fill="none" stroke="#b3b3b3" stroke-width="1.0"/>
<circle cx="189.86" cy="346.21" r="2.85" fill="none" stroke="#b3b3b3" stroke-width="1.0"/>
<circle cx="562.33" cy="160.61" r="2.85" fill="none" stroke="#b3b3b3" stroke-width="1.0"/>
<circle cx="189.86" cy="347.71" r="2.85" fill="none" stroke="#b3b3b3" stroke-width="1.0"/>
<circle cx="562.33" cy="162.11" r="2.85" fill="none" stroke="#b3b3b3" stroke-width="1.0"/>
<circle cx="189.86" cy="349.21" r="2.85" fill="none" stroke="#b3b3b3" stroke-width="1.0"/>
<circle cx="562.33" cy="163.61" r="2.85" fill="none" stroke="#b3b3b3" stroke-width="1.0"/>
<circle cx="189.86" cy="350.71" r="2.85" fill="none" stroke="#b3b3b3" stroke-width="1.0"/>
<circle cx="562.33" cy="165.11" r="2.85" fill="none" stroke="#b3b3b3" stroke-width="1.0"/>
<circle cx="242.50" cy="730.26" r="2.55" fill="none" stroke="#bababa" stroke-width="1.7"/>
<circle cx="191.88" cy="336.21" r="2.85" fill="none" stroke="#b3b3b3" stroke-width="1.0"/>
<circle cx="562.33" cy="151.84" r="2.85" fill="none" stroke="#b3b3b3" stroke-width="1.0"/>
<circle cx="191.88" cy="337.71" r="2.85" fill="none" stroke="#b3b3b3" stroke-width="1.0"/>
<circle cx="562.33" cy="153.34" r="2.85" fill="none" stroke="#b3b3b3" stroke-width="1.0"/>
<circle cx="191.88" cy="339.21" r="2.85" fill="none" stroke="#b3b3b3" stroke-width="1.0"/>
<circle cx="562.33" cy="154.84" r="2.85" fill="none" stroke="#b3b3b3" stroke-width="1.0"/>
<circle cx="191.88" cy="340.71" r="2.85" fill="none" stroke="#b3b3b3" stroke-width="1.0"/>
<circle cx="562.33" cy="156.34" r="2.85" fill="none" stroke="#b3b3b3" stroke-width="1.0"/>
<circle cx="191.88" cy="342.21" r="2.85" fill="none" stroke="#b3b3b3" stroke-width="1.0"/>
<circle cx="562.33" cy="157.84" r="2.85" fill="none" stroke="#b3b3b3" stroke-width="1.0"/>
<circle cx="191.88" cy="343.71" r="2.85" fill="none" stroke="#b3b3b3" stroke-width="1.0"/>
<circle cx="562.33" cy="159.34" r="2.85" fill="none" stroke="#b3b3b3" stroke-width="1.0"/>
<circle cx="191.88" cy="345.21" r="2.85" fill="none" stroke="#b3b3b3" stroke-width="1.0"/>
<circle cx="562.33" cy="160.84" r="2.85" fill="none" stroke="#b3b3b3" stroke-width="1.0"/>
<circle cx="191.88" cy="346.71" r="2.85" fill="none" stroke="#b3b3b3" stroke-width="1.0"/>
<circle cx="562.33" cy="162.34" r="2.85" fill="none" stroke="#b3b3b3" stroke-width="1.0"/>
<circle cx="191.88" cy="348.21" r="2.85" fill="none" stroke="#b3b3b3" stroke-width="1.0"/>
<circle cx="562.33" cy="163.84" r="2.85" fill="none" stroke="#b3b3b3" stroke-width="1.0"/>
<circle cx="191.88" cy="349.71" r="2.85" fill="none" stroke="#b3b3b3" stroke-width="1.0"/>
<circle cx="562.33" cy="165.34" r="2.85" fill="none" stroke="#b3b3b3" stroke-width="1.0"/>
<circle cx="243.50" cy="729.65" r="2.55" fill="none" stroke="#bababa" stroke-width="1.7"/>
<circle cx="192.88" cy="335.21" r="2.85" fill="none" stroke="#b3b3b3" stroke-width="1.0"/>
<circle cx="562.33" cy="151.44" r="2.85" fill="none" stroke="#b3b3b3" stroke-width="1.0"/>
<circle cx="192.88" cy="336.71" r="2.85" fill="none" stroke="#b3b3b3" stroke-width="1.0"/>
<circle cx="562.33" cy="152.94" r="2.85" fill="none" stroke="#b3b3b3" stroke-width="1.0"/>
<circle cx="192.88" cy="338.21" r="2.85" fill="none" stroke="#b3b3b3" stroke-width="1.0"/>
<circle cx="562.33" cy="154.44" r="2.85" fill="none" stroke="#b3b3b3" stroke-width="1.0"/>
<circle cx="192.88" cy="339.71" r="2.85" fill="none" stroke="#b3b3b3" stroke-width="1.0"/>
<circle cx="562.33" cy="155.94" r="2.85" fill="none" stroke="#b3b3b3" stroke-width="1.0"/>
<circle cx="192.88" cy="341.21" r="2.85" fill="none" stroke="#b3b3b3" stroke-width="1.0"/>
<circle cx="562.33" cy="157.44" r="2.85" fill="none" stroke="#b3b3b3" stroke-width="1.0"/>
<circle cx="192.88" cy="342.71" r="2.85" fill="none" stroke="#b3b3b3" stroke-width="1.0"/>
<circle cx="562.33" cy="158.94" r="2.85" fill="none" stroke="#b3b3b3" stroke-width="1.0"/>
<circle cx="192.88" cy="344.21" r="2.85" fill="none" stroke="#b3b3b3" stroke-width="1.0"/>
<circle cx="562.33" cy="160.44" r="2.85" fill="none" stroke="#b3b3b3" stroke-width="1.0"/>
<circle cx="192.88" cy="345.71" r="2.85" fill="none" stroke="#b3b3b3" stroke-width="1.0"/>
<circle cx="562.33" cy="161.94" r="2.85" fill="none" stroke="#b3b3b3" stroke-width="1.0"/>
<circle cx="192.88" cy="347.21" r="2.85" fill="none" stroke="#b3b3b3" stroke-width="1.0"/>
<circle cx="562.33" cy="163.44" r="2.85" fill="none" stroke="#b3b3b3" stroke-width="1.0"/>
<circle cx="244.50" cy="729.04" r="2.55" fill="none" stroke="#bababa" stroke-width="1.7"/>
<circle cx="193.88" cy="334.21" r="2.85" fill="none" stroke="#b3b3b3" stroke-width="1.0"/>
<circle cx="562.33" cy="151.05" r="2.85" fill="none" stroke="#b3b3b3" stroke-width="1.0"/>
<circle cx="193.88" cy="335.71" r="2.85" fill="none" stroke="#b3b3b3" stroke-width="1.0"/>
<circle cx="562.33" cy="152.55" r="2.85" fill="none" stroke="#b3b3b3" stroke-width="1.0"/>
<circle cx="193.88" cy="337.21" r="2.85" fill="none" stroke="#b3b3b3" stroke-width="1.0"/>
<circle cx="562.33" cy="154.05" r="2.85" fill="none" stroke="#b3b3b3" stroke-width="1.0"/>
<circle cx="193.88" cy="338.71" r="2.85" fill="none" stroke="#b3b3b3" stroke-width="1.0"/>
<circle cx="562.33" cy="155.55" r="2.85" fill="none" stroke="#b3b3b3" stroke-width="1.0"/>
<circle cx="193.88" cy="340.21" r="2.85" fill="none" stroke="#b3b3b3" stroke-width="1.0"/>
<circle cx="562.33" cy="157.05" r="2.85" fill="none" stroke="#b3b3b3" stroke-width="1.0"/>
<circle cx="193.88" cy="341.71" r="2.85" fill="none" stroke="#b3b3b3" stroke-width="1.0"/>
<circle cx="562.33" cy="158.55" r="2.85" fill="none" stroke="#b3b3b3" stroke-width="1.0"/>
<circle cx="193.88" cy="343.21" r="2.85" fill="none" stroke="#b3b3b3" stroke-width="1.0"/>
<circle cx="562.33" cy="160.05" r="2.85" fill="none" stroke="#b3b3b3" stroke-width="1.0"/>
<circle cx="193.88" cy="344.71" r="2.85" fill="none" stroke="#b3b3b3" stroke-width="1.0"/>
<circle cx="562.33" cy="161.55" r="2.85" fill="none" stroke="#b3b3b3" stroke-width="1.0"/>
<circle cx="193.88" cy="346.21" r="2.85" fill="none" stroke="#b3b3b3" stroke-width="1.0"/>
<circle cx="562.33" cy="163.05" r="2.85" fill="none" stroke="#b3b3b3" stroke-width="1.0"/>
<circle cx="245.50" cy="728.43" r="2.55" fill="none" stroke="#bababa" stroke-width="1.7"/>
<circle cx="194.88" cy="333.71" r="2.85" fill="none" stroke="#b3b3b3" stroke-width="1.0"/>
<circle cx="562.33" cy="151.16" r="2.85" fill="none" stroke="#b3b3b3" stroke-width="1.0"/>
<circle cx="194.88" cy="335.21" r="2.85" fill="none" stroke="#b3b3b3" stroke-width="1.0"/>
<circle cx="562.33" cy="152.66" r="2.85" fill="none" stroke="#b3b3b3" stroke-width="1.0"/>
<circle cx="194.88" cy="336.71" r="2.85" fill="none" stroke="#b3b3b3" stroke-width="1.0"/>
<circle cx="562.33" cy="154.16" r="2.85" fill="none" stroke="#b3b3b3" stroke-width="1.0"/>
<circle cx="194.88" cy="338.21" r="2.85" fill="none" stroke="#b3b3b3" stroke-width="1.0"/>
<circle cx="562.33" cy="155.66" r="2.85" fill="none" stroke="#b3b3b3" stroke-width="1.0"/>
<circle cx="194.88" cy="339.71" r="2.85" fill="none" stroke="#b3b3b3" stroke-width="1.0"/>
<circle cx="562.33" cy="157.16" r="2.85" fill="none" stroke="#b3b3b3" stroke-width="1.0"/>
<circle cx="194.88" cy="341.21" r="2.85" fill="none" stroke="#b3b3b3" stroke-width="1.0"/>
<circle cx="562.33" cy="158.66" r="2.85" fill="none" stroke="#b3b3b3" stroke-width="1.0"/>
<circle cx="194.88" cy="342.71" r="2.85" fill="none" stroke="#b3b3b3" stroke-width="1.0"/>
<circle cx="562.33" cy="160.16" r="2.85" fill="none" stroke="#b3b3b3" stroke-width="1.0"/>
<circle cx="194.88" cy="344.21" r="2.85" fill="none" stroke="#b3b3b3" stroke-width="1.0"/>
<circle cx="562.33" cy="161.66" r="2.85" fill="none" stroke="#b3b3b3" stroke-width="1.0"/>
<circle cx="194.88" cy="345.71" r="2.85" fill="none" stroke="#b3b3b3" stroke-width="1.0"/>
<circle cx="562.33" cy="163.16" r="2.85" fill="none" stroke="#b3b3b3" stroke-width="1.0"/>
<circle cx="246.40" cy="727.88" r="2.55" fill="none" stroke="#bababa" stroke-width="1.7"/>
<circle cx="195.78" cy="333.21" r="2.85" fill="none" stroke="#b3b3b3" stroke-width="1.0"/>
<circle cx="562.33" cy="151.21" r="2.85" fill="none" stroke="#b3b3b3" stroke-width="1.0"/>
<circle cx="195.78" cy="334.71" r="2.85" fill="none" stroke="#b3b3b3" stroke-width="1.0"/>
<circle cx="562.33" cy="152.71" r="2.85" fill="none" stroke="#b3b3b3" stroke-width="1.0"/>
<circle cx="195.78" cy="336.21" r="2.85" fill="none" stroke="#b3b3b3" stroke-width="1.0"/>
<circle cx="562.33" cy="154.21" r="2.85" fill="none" stroke="#b3b3b3" stroke-width="1.0"/>
<circle cx="195.78" cy="337.71" r="2.85" fill="none" stroke="#b3b3b3" stroke-width="1.0"/>
<circle cx="562.33" cy="155.71" r="2.85" fill="none" stroke="#b3b3b3" stroke-width="1.0"/>
<circle cx="195.78" cy="339.21" r="2.85" fill="none" stroke="#b3b3b3" stroke-width="1.0"/>
<circle cx="562.33" cy="157.21" r="2.85" fill="none" stroke="#b3b3b3" stroke-width="1.0"/>
<circle cx="195.78" cy="340.71" r="2.85" fill="none" stroke="#b3b3b3" stroke-width="1.0"/>
<circle cx="562.33" cy="158.71" r="2.85" fill="none" stroke="#b3b3b3" stroke-width="1.0"/>
<circle cx="195.78" cy="342.21" r="2.85" fill="none" stroke="#b3b3b3" stroke-width="1.0"/>
<circle cx="562.33" cy="160.21" r="2.85" fill="none" stroke="#b3b3b3" stroke-width="1.0"/>
<circle cx="195.78" cy="343.71" r="2.85" fill="none" stroke="#b3b3b3" stroke-width="1.0"/>
<circle cx="562.33" cy="161.71" r="2.85" fill="none" stroke="#b3b3b3" stroke-width="1.0"/>
<circle cx="195.78" cy="345.21" r="2.85" fill="none" stroke="#b3b3b3" stroke-width="1.0"/>
<circle cx="562.33" cy="163.21" r="2.85" fill="none" stroke="#b3b3b3" stroke-width="1.0"/>
<circle cx="248.30" cy="726.73" r="2.55" fill="none" stroke="#bababa" stroke-width="1.7"/>
<circle cx="197.68" cy="335.71" r="2.85" fill="none" stroke="#b3b3b3" stroke-width="1.0"/>
<circle cx="562.33" cy="154.87" r="2.85" fill="none" stroke="#b3b3b3" stroke-width="1.0"/>
<circle cx="197.68" cy="341.71" r="2.85" fill="none" stroke="#b3b3b3" stroke-width="1.0"/>
<circle cx="562.33" cy="160.87" r="2.85" fill="none" stroke="#b3b3b3" stroke-width="1.0"/>
<circle cx="253.56" cy="723.52" r="2.55" fill="none" stroke="#bababa" stroke-width="1.7"/>
<circle cx="202.94" cy="333.07" r="2.85" fill="none" stroke="#b3b3b3" stroke-width="1.0"/>
<circle cx="562.33" cy="155.43" r="2.85" fill="none" stroke="#b3b3b3" stroke-width="1.0"/>
<circle cx="202.94" cy="335.41" r="2.85" fill="none" stroke="#b3b3b3" stroke-width="1.0"/>
<circle cx="562.33" cy="157.77" r="2.85" fill="none" stroke="#b3b3b3" stroke-width="1.0"/>
<circle cx="202.94" cy="337.41" r="2.85" fill="none" stroke="#b3b3b3" stroke-width="1.0"/>
<circle cx="562.33" cy="159.77" r="2.85" fill="none" stroke="#b3b3b3" stroke-width="1.0"/>
<circle cx="202.94" cy="339.41" r="2.85" fill="none" stroke="#b3b3b3" stroke-width="1.0"/>
<circle cx="562.33" cy="161.77" r="2.85" fill="none" stroke="#b3b3b3" stroke-width="1.0"/>
<circle cx="202.94" cy="341.41" r="2.85" fill="none" stroke="#b3b3b3" stroke-width="1.0"/>
<circle cx="562.33" cy="163.77" r="2.85" fill="none" stroke="#b3b3b3" stroke-width="1.0"/>
<circle cx="202.94" cy="343.41" r="2.85" fill="none" stroke="#b3b3b3" stroke-width="1.0"/>
<circle cx="562.33" cy="165.77" r="2.85" fill="none" stroke="#b3b3b3" stroke-width="1.0"/>
<circle cx="202.94" cy="345.41" r="2.85" fill="none" stroke="#b3b3b3" stroke-width="1.0"/>
<circle cx="562.33" cy="167.77" r="2.85" fill="none" stroke="#b3b3b3" stroke-width="1.0"/>
<circle cx="262.37" cy="718.16" r="2.55" fill="none" stroke="#bababa" stroke-width="1.7"/>
<circle cx="211.74" cy="329.19" r="2.85" fill="none" stroke="#b3b3b3" stroke-width="1.0"/>
<circle cx="562.33" cy="156.91" r="2.85" fill="none" stroke="#b3b3b3" stroke-width="1.0"/>
<circle cx="211.74" cy="336.96" r="2.85" fill="none" stroke="#b3b3b3" stroke-width="1.0"/>
<circle cx="562.33" cy="164.68" r="2.85" fill="none" stroke="#b3b3b3" stroke-width="1.0"/>
<circle cx="211.74" cy="354.21" r="2.85" fill="none" stroke="#b3b3b3" stroke-width="1.0"/>
<circle cx="562.33" cy="181.93" r="2.85" fill="none" stroke="#b3b3b3" stroke-width="1.0"/>
<circle cx="211.74" cy="365.11" r="2.85" fill="none" stroke="#b3b3b3" stroke-width="1.0"/>
<circle cx="562.33" cy="192.83" r="2.85" fill="none" stroke="#b3b3b3" stroke-width="1.0"/>
<circle cx="275.36" cy="710.26" r="2.55" fill="none" stroke="#bababa" stroke-width="1.7"/>
<circle cx="224.73" cy="323.29" r="2.85" fill="none" stroke="#b3b3b3" stroke-width="1.0"/>
<circle cx="562.33" cy="158.92" r="2.85" fill="none" stroke="#b3b3b3" stroke-width="1.0"/>
<circle cx="224.73" cy="330.11" r="2.85" fill="none" stroke="#b3b3b3" stroke-width="1.0"/>
<circle cx="562.33" cy="165.74" r="2.85" fill="none" stroke="#b3b3b3" stroke-width="1.0"/>
<circle cx="224.73" cy="348.21" r="2.85" fill="none" stroke="#b3b3b3" stroke-width="1.0"/>
<circle cx="562.33" cy="183.84" r="2.85" fill="none" stroke="#b3b3b3" stroke-width="1.0"/>
<circle cx="224.73" cy="360.21" r="2.85" fill="none" stroke="#b3b3b3" stroke-width="1.0"/>
<circle cx="562.33" cy="195.84" r="2.85" fill="none" stroke="#b3b3b3" stroke-width="1.0"/>
<circle cx="224.73" cy="375.71" r="2.85" fill="none" stroke="#b3b3b3" stroke-width="1.0"/>
<circle cx="562.33" cy="211.34" r="2.85" fill="none" stroke="#b3b3b3" stroke-width="1.0"/>
<circle cx="296.43" cy="697.43" r="2.55" fill="none" stroke="#bababa" stroke-width="1.7"/>
<circle cx="245.80" cy="313.75" r="2.85" fill="none" stroke="#b3b3b3" stroke-width="1.0"/>
<circle cx="562.33" cy="162.20" r="2.85" fill="none" stroke="#b3b3b3" stroke-width="1.0"/>
<circle cx="245.80" cy="322.21" r="2.85" fill="none" stroke="#b3b3b3" stroke-width="1.0"/>
<circle cx="562.33" cy="170.66" r="2.85" fill="none" stroke="#b3b3b3" stroke-width="1.0"/>
<circle cx="245.80" cy="338.21" r="2.85" fill="none" stroke="#b3b3b3" stroke-width="1.0"/>
<circle cx="562.33" cy="186.66" r="2.85" fill="none" stroke="#b3b3b3" stroke-width="1.0"/>
<circle cx="245.80" cy="346.01" r="2.85" fill="none" stroke="#b3b3b3" stroke-width="1.0"/>
<circle cx="562.33" cy="194.46" r="2.85" fill="none" stroke="#b3b3b3" stroke-width="1.0"/>
<circle cx="245.80" cy="357.11" r="2.85" fill="none" stroke="#b3b3b3" stroke-width="1.0"/>
<circle cx="562.33" cy="205.56" r="2.85" fill="none" stroke="#b3b3b3" stroke-width="1.0"/>
<circle cx="245.80" cy="377.21" r="2.85" fill="none" stroke="#b3b3b3" stroke-width="1.0"/>
<circle cx="562.33" cy="225.66" r="2.85" fill="none" stroke="#b3b3b3" stroke-width="1.0"/>
<circle cx="245.80" cy="387.71" r="2.85" fill="none" stroke="#b3b3b3" stroke-width="1.0"/>
<circle cx="562.33" cy="236.16" r="2.85" fill="none" stroke="#b3b3b3" stroke-width="1.0"/>
<circle cx="245.80" cy="392.21" r="2.85" fill="none" stroke="#b3b3b3" stroke-width="1.0"/>
<circle cx="562.33" cy="240.66" r="2.85" fill="none" stroke="#b3b3b3" stroke-width="1.0"/>
<circle cx="330.75" cy="676.54" r="2.55" fill="none" stroke="#bababa" stroke-width="1.7"/>
<circle cx="280.12" cy="316.41" r="2.85" fill="none" stroke="#b3b3b3" stroke-width="1.0"/>
<circle cx="562.33" cy="185.75" r="2.85" fill="none" stroke="#b3b3b3" stroke-width="1.0"/>
<circle cx="280.12" cy="328.71" r="2.85" fill="none" stroke="#b3b3b3" stroke-width="1.0"/>
<circle cx="562.33" cy="198.05" r="2.85" fill="none" stroke="#b3b3b3" stroke-width="1.0"/>
<circle cx="280.12" cy="389.21" r="2.85" fill="none" stroke="#b3b3b3" stroke-width="1.0"/>
<circle cx="562.33" cy="258.55" r="2.85" fill="none" stroke="#b3b3b3" stroke-width="1.0"/>
<circle cx="280.12" cy="394.71" r="2.85" fill="none" stroke="#b3b3b3" stroke-width="1.0"/>
<circle cx="562.33" cy="264.05" r="2.85" fill="none" stroke="#b3b3b3" stroke-width="1.0"/>
<circle cx="280.12" cy="467.71" r="2.85" fill="none" stroke="#b3b3b3" stroke-width="1.0"/>
<circle cx="562.33" cy="337.05" r="2.85" fill="none" stroke="#b3b3b3" stroke-width="1.0"/>
<circle cx="280.12" cy="534.71" r="2.85" fill="none" stroke="#b3b3b3" stroke-width="1.0"/>
<circle cx="562.33" cy="404.05" r="2.85" fill="none" stroke="#b3b3b3" stroke-width="1.0"/>
<circle cx="189.86" cy="327.48" r="2.85" fill="none" stroke="#b3b3b3" stroke-width="1.0"/>
<circle cx="663.58" cy="162.47" r="2.85" fill="none" stroke="#b3b3b3" stroke-width="1.0"/>
<circle cx="189.86" cy="329.13" r="2.85" fill="none" stroke="#b3b3b3" stroke-width="1.0"/>
<circle cx="663.58" cy="164.11" r="2.85" fill="none" stroke="#b3b3b3" stroke-width="1.0"/>
<circle cx="189.86" cy="330.63" r="2.85" fill="none" stroke="#b3b3b3" stroke-width="1.0"/>
<circle cx="663.58" cy="165.61" r="2.85" fill="none" stroke="#b3b3b3" stroke-width="1.0"/>
<circle cx="189.86" cy="332.13" r="2.85" fill="none" stroke="#b3b3b3" stroke-width="1.0"/>
<circle cx="663.58" cy="167.11" r="2.85" fill="none" stroke="#b3b3b3" stroke-width="1.0"/>
<circle cx="189.86" cy="333.63" r="2.85" fill="none" stroke="#b3b3b3" stroke-width="1.0"/>
<circle cx="663.58" cy="168.61" r="2.85" fill="none" stroke="#b3b3b3" stroke-width="1.0"/>
<circle cx="189.86" cy="335.13" r="2.85" fill="none" stroke="#b3b3b3" stroke-width="1.0"/>
<circle cx="663.58" cy="170.11" r="2.85" fill="none" stroke="#b3b3b3" stroke-width="1.0"/>
<circle cx="189.86" cy="336.63" r="2.85" fill="none" stroke="#b3b3b3" stroke-width="1.0"/>
<circle cx="663.58" cy="171.61" r="2.85" fill="none" stroke="#b3b3b3" stroke-width="1.0"/>
<circle cx="189.86" cy="338.13" r="2.85" fill="none" stroke="#b3b3b3" stroke-width="1.0"/>
<circle cx="663.58" cy="173.11" r="2.85" fill="none" stroke="#b3b3b3" stroke-width="1.0"/>
<circle cx="189.86" cy="339.63" r="2.85" fill="none" stroke="#b3b3b3" stroke-width="1.0"/>
<circle cx="663.58" cy="174.61" r="2.85" fill="none" stroke="#b3b3b3" stroke-width="1.0"/>
<circle cx="189.86" cy="341.13" r="2.85" fill="none" stroke="#b3b3b3" stroke-width="1.0"/>
<circle cx="663.58" cy="176.11" r="2.85" fill="none" stroke="#b3b3b3" stroke-width="1.0"/>
<circle cx="189.86" cy="342.63" r="2.85" fill="none" stroke="#b3b3b3" stroke-width="1.0"/>
<circle cx="663.58" cy="177.61" r="2.85" fill="none" stroke="#b3b3b3" stroke-width="1.0"/>
<circle cx="189.86" cy="344.13" r="2.85" fill="none" stroke="#b3b3b3" stroke-width="1.0"/>
<circle cx="663.58" cy="179.11" r="2.85" fill="none" stroke="#b3b3b3" stroke-width="1.0"/>
<circle cx="189.86" cy="345.63" r="2.85" fill="none" stroke="#b3b3b3" stroke-width="1.0"/>
<circle cx="663.58" cy="180.61" r="2.85" fill="none" stroke="#b3b3b3" stroke-width="1.0"/>
<circle cx="189.86" cy="347.13" r="2.85" fill="none" stroke="#b3b3b3" stroke-width="1.0"/>
<circle cx="663.58" cy="182.11" r="2.85" fill="none" stroke="#b3b3b3" stroke-width="1.0"/>
<circle cx="189.86" cy="358.13" r="2.85" fill="none" stroke="#b3b3b3" stroke-width="1.0"/>
<circle cx="663.58" cy="193.11" r="2.85" fill="none" stroke="#b3b3b3" stroke-width="1.0"/>
<circle cx="189.86" cy="377.13" r="2.85" fill="none" stroke="#b3b3b3" stroke-width="1.0"/>
<circle cx="663.58" cy="212.11" r="2.85" fill="none" stroke="#b3b3b3" stroke-width="1.0"/>
<circle cx="189.86" cy="430.13" r="2.85" fill="none" stroke="#b3b3b3" stroke-width="1.0"/>
<circle cx="663.58" cy="265.11" r="2.85" fill="none" stroke="#b3b3b3" stroke-width="1.0"/>
<circle cx="189.86" cy="433.13" r="2.85" fill="none" stroke="#b3b3b3" stroke-width="1.0"/>
<circle cx="663.58" cy="268.11" r="2.85" fill="none" stroke="#b3b3b3" stroke-width="1.0"/>
<circle cx="189.86" cy="587.38" r="2.85" fill="none" stroke="#b3b3b3" stroke-width="1.0"/>
<circle cx="663.58" cy="422.36" r="2.85" fill="none" stroke="#b3b3b3" stroke-width="1.0"/>
<circle cx="189.86" cy="327.90" r="2.85" fill="none" stroke="#b3b3b3" stroke-width="1.0"/>
<circle cx="663.58" cy="162.88" r="2.85" fill="none" stroke="#b3b3b3" stroke-width="1.0"/>
<circle cx="189.86" cy="328.63" r="2.85" fill="none" stroke="#b3b3b3" stroke-width="1.0"/>
<circle cx="663.58" cy="163.61" r="2.85" fill="none" stroke="#b3b3b3" stroke-width="1.0"/>
<circle cx="189.86" cy="330.13" r="2.85" fill="none" stroke="#b3b3b3" stroke-width="1.0"/>
<circle cx="663.58" cy="165.11" r="2.85" fill="none" stroke="#b3b3b3" stroke-width="1.0"/>
<circle cx="189.86" cy="331.63" r="2.85" fill="none" stroke="#b3b3b3" stroke-width="1.0"/>
<circle cx="663.58" cy="166.61" r="2.85" fill="none" stroke="#b3b3b3" stroke-width="1.0"/>
<circle cx="189.86" cy="333.13" r="2.85" fill="none" stroke="#b3b3b3" stroke-width="1.0"/>
<circle cx="663.58" cy="168.11" r="2.85" fill="none" stroke="#b3b3b3" stroke-width="1.0"/>
<circle cx="189.86" cy="334.63" r="2.85" fill="none" stroke="#b3b3b3" stroke-width="1.0"/>
<circle cx="663.58" cy="169.61" r="2.85" fill="none" stroke="#b3b3b3" stroke-width="1.0"/>
<circle cx="189.86" cy="336.13" r="2.85" fill="none" stroke="#b3b3b3" stroke-width="1.0"/>
<circle cx="663.58" cy="171.11" r="2.85" fill="none" stroke="#b3b3b3" stroke-width="1.0"/>
<circle cx="189.86" cy="337.63" r="2.85" fill="none" stroke="#b3b3b3" stroke-width="1.0"/>
<circle cx="663.58" cy="172.61" r="2.85" fill="none" stroke="#b3b3b3" stroke-width="1.0"/>
<circle cx="189.86" cy="339.13" r="2.85" fill="none" stroke="#b3b3b3" stroke-width="1.0"/>
<circle cx="663.58" cy="174.11" r="2.85" fill="none" stroke="#b3b3b3" stroke-width="1.0"/>
<circle cx="189.86" cy="340.63" r="2.85" fill="none" stroke="#b3b3b3" stroke-width="1.0"/>
<circle cx="663.58" cy="175.61" r="2.85" fill="none" stroke="#b3b3b3" stroke-width="1.0"/>
<circle cx="189.86" cy="342.13" r="2.85" fill="none" stroke="#b3b3b3" stroke-width="1.0"/>
<circle cx="663.58" cy="177.11" r="2.85" fill="none" stroke="#b3b3b3" stroke-width="1.0"/>
<circle cx="189.86" cy="343.63" r="2.85" fill="none" stroke="#b3b3b3" stroke-width="1.0"/>
<circle cx="663.58" cy="178.61" r="2.85" fill="none" stroke="#b3b3b3" stroke-width="1.0"/>
<circle cx="189.86" cy="345.13" r="2.85" fill="none" stroke="#b3b3b3" stroke-width="1.0"/>
<circle cx="663.58" cy="180.11" r="2.85" fill="none" stroke="#b3b3b3" stroke-width="1.0"/>
<circle cx="189.86" cy="346.63" r="2.85" fill="none" stroke="#b3b3b3" stroke-width="1.0"/>
<circle cx="663.58" cy="181.61" r="2.85" fill="none" stroke="#b3b3b3" stroke-width="1.0"/>
<circle cx="344.50" cy="750.38" r="2.55" fill="none" stroke="#bababa" stroke-width="1.7"/>
<circle cx="192.62" cy="326.62" r="2.85" fill="none" stroke="#b3b3b3" stroke-width="1.0"/>
<circle cx="663.58" cy="163.29" r="2.85" fill="none" stroke="#b3b3b3" stroke-width="1.0"/>
<circle cx="192.62" cy="328.12" r="2.85" fill="none" stroke="#b3b3b3" stroke-width="1.0"/>
<circle cx="663.58" cy="164.79" r="2.85" fill="none" stroke="#b3b3b3" stroke-width="1.0"/>
<circle cx="192.62" cy="329.62" r="2.85" fill="none" stroke="#b3b3b3" stroke-width="1.0"/>
<circle cx="663.58" cy="166.29" r="2.85" fill="none" stroke="#b3b3b3" stroke-width="1.0"/>
<circle cx="192.62" cy="331.12" r="2.85" fill="none" stroke="#b3b3b3" stroke-width="1.0"/>
<circle cx="663.58" cy="167.79" r="2.85" fill="none" stroke="#b3b3b3" stroke-width="1.0"/>
<circle cx="192.62" cy="332.62" r="2.85" fill="none" stroke="#b3b3b3" stroke-width="1.0"/>
<circle cx="663.58" cy="169.29" r="2.85" fill="none" stroke="#b3b3b3" stroke-width="1.0"/>
<circle cx="192.62" cy="334.12" r="2.85" fill="none" stroke="#b3b3b3" stroke-width="1.0"/>
<circle cx="663.58" cy="170.79" r="2.85" fill="none" stroke="#b3b3b3" stroke-width="1.0"/>
<circle cx="192.62" cy="335.62" r="2.85" fill="none" stroke="#b3b3b3" stroke-width="1.0"/>
<circle cx="663.58" cy="172.29" r="2.85" fill="none" stroke="#b3b3b3" stroke-width="1.0"/>
<circle cx="192.62" cy="337.12" r="2.85" fill="none" stroke="#b3b3b3" stroke-width="1.0"/>
<circle cx="663.58" cy="173.79" r="2.85" fill="none" stroke="#b3b3b3" stroke-width="1.0"/>
<circle cx="192.62" cy="338.63" r="2.85" fill="none" stroke="#b3b3b3" stroke-width="1.0"/>
<circle cx="663.58" cy="175.29" r="2.85" fill="none" stroke="#b3b3b3" stroke-width="1.0"/>
<circle cx="192.62" cy="340.12" r="2.85" fill="none" stroke="#b3b3b3" stroke-width="1.0"/>
<circle cx="663.58" cy="176.79" r="2.85" fill="none" stroke="#b3b3b3" stroke-width="1.0"/>
<circle cx="192.62" cy="341.62" r="2.85" fill="none" stroke="#b3b3b3" stroke-width="1.0"/>
<circle cx="663.58" cy="178.29" r="2.85" fill="none" stroke="#b3b3b3" stroke-width="1.0"/>
<circle cx="192.62" cy="343.12" r="2.85" fill="none" stroke="#b3b3b3" stroke-width="1.0"/>
<circle cx="663.58" cy="179.79" r="2.85" fill="none" stroke="#b3b3b3" stroke-width="1.0"/>
<circle cx="192.62" cy="344.62" r="2.85" fill="none" stroke="#b3b3b3" stroke-width="1.0"/>
<circle cx="663.58" cy="181.29" r="2.85" fill="none" stroke="#b3b3b3" stroke-width="1.0"/>
<circle cx="192.62" cy="346.12" r="2.85" fill="none" stroke="#b3b3b3" stroke-width="1.0"/>
<circle cx="663.58" cy="182.79" r="2.85" fill="none" stroke="#b3b3b3" stroke-width="1.0"/>
<circle cx="192.62" cy="347.62" r="2.85" fill="none" stroke="#b3b3b3" stroke-width="1.0"/>
<circle cx="663.58" cy="184.29" r="2.85" fill="none" stroke="#b3b3b3" stroke-width="1.0"/>
<circle cx="346.00" cy="749.47" r="2.55" fill="none" stroke="#bababa" stroke-width="1.7"/>
<circle cx="194.12" cy="326.12" r="2.85" fill="none" stroke="#b3b3b3" stroke-width="1.0"/>
<circle cx="663.58" cy="163.71" r="2.85" fill="none" stroke="#b3b3b3" stroke-width="1.0"/>
<circle cx="194.12" cy="327.62" r="2.85" fill="none" stroke="#b3b3b3" stroke-width="1.0"/>
<circle cx="663.58" cy="165.21" r="2.85" fill="none" stroke="#b3b3b3" stroke-width="1.0"/>
<circle cx="194.12" cy="329.12" r="2.85" fill="none" stroke="#b3b3b3" stroke-width="1.0"/>
<circle cx="663.58" cy="166.71" r="2.85" fill="none" stroke="#b3b3b3" stroke-width="1.0"/>
<circle cx="194.12" cy="330.62" r="2.85" fill="none" stroke="#b3b3b3" stroke-width="1.0"/>
<circle cx="663.58" cy="168.21" r="2.85" fill="none" stroke="#b3b3b3" stroke-width="1.0"/>
<circle cx="194.12" cy="332.12" r="2.85" fill="none" stroke="#b3b3b3" stroke-width="1.0"/>
<circle cx="663.58" cy="169.71" r="2.85" fill="none" stroke="#b3b3b3" stroke-width="1.0"/>
<circle cx="194.12" cy="333.62" r="2.85" fill="none" stroke="#b3b3b3" stroke-width="1.0"/>
<circle cx="663.58" cy="171.21" r="2.85" fill="none" stroke="#b3b3b3" stroke-width="1.0"/>
<circle cx="194.12" cy="335.12" r="2.85" fill="none" stroke="#b3b3b3" stroke-width="1.0"/>
<circle cx="663.58" cy="172.71" r="2.85" fill="none" stroke="#b3b3b3" stroke-width="1.0"/>
<circle cx="194.12" cy="336.62" r="2.85" fill="none" stroke="#b3b3b3" stroke-width="1.0"/>
<circle cx="663.58" cy="174.21" r="2.85" fill="none" stroke="#b3b3b3" stroke-width="1.0"/>
<circle cx="194.12" cy="338.12" r="2.85" fill="none" stroke="#b3b3b3" stroke-width="1.0"/>
<circle cx="663.58" cy="175.71" r="2.85" fill="none" stroke="#b3b3b3" stroke-width="1.0"/>
<circle cx="194.12" cy="339.62" r="2.85" fill="none" stroke="#b3b3b3" stroke-width="1.0"/>
<circle cx="663.58" cy="177.21" r="2.85" fill="none" stroke="#b3b3b3" stroke-width="1.0"/>
<circle cx="194.12" cy="341.12" r="2.85" fill="none" stroke="#b3b3b3" stroke-width="1.0"/>
<circle cx="663.58" cy="178.71" r="2.85" fill="none" stroke="#b3b3b3" stroke-width="1.0"/>
<circle cx="194.12" cy="342.62" r="2.85" fill="none" stroke="#b3b3b3" stroke-width="1.0"/>
<circle cx="663.58" cy="180.21" r="2.85" fill="none" stroke="#b3b3b3" stroke-width="1.0"/>
<circle cx="194.12" cy="344.12" r="2.85" fill="none" stroke="#b3b3b3" stroke-width="1.0"/>
<circle cx="663.58" cy="181.71" r="2.85" fill="none" stroke="#b3b3b3" stroke-width="1.0"/>
<circle cx="194.12" cy="345.62" r="2.85" fill="none" stroke="#b3b3b3" stroke-width="1.0"/>
<circle cx="663.58" cy="183.21" r="2.85" fill="none" stroke="#b3b3b3" stroke-width="1.0"/>
<circle cx="194.12" cy="347.12" r="2.85" fill="none" stroke="#b3b3b3" stroke-width="1.0"/>
<circle cx="663.58" cy="184.71" r="2.85" fill="none" stroke="#b3b3b3" stroke-width="1.0"/>
<circle cx="347.50" cy="748.56" r="2.55" fill="none" stroke="#bababa" stroke-width="1.7"/>
<circle cx="195.62" cy="325.62" r="2.85" fill="none" stroke="#b3b3b3" stroke-width="1.0"/>
<circle cx="663.58" cy="164.12" r="2.85" fill="none" stroke="#b3b3b3" stroke-width="1.0"/>
<circle cx="195.63" cy="327.12" r="2.85" fill="none" stroke="#b3b3b3" stroke-width="1.0"/>
<circle cx="663.58" cy="165.62" r="2.85" fill="none" stroke="#b3b3b3" stroke-width="1.0"/>
<circle cx="195.63" cy="328.62" r="2.85" fill="none" stroke="#b3b3b3" stroke-width="1.0"/>
<circle cx="663.58" cy="167.12" r="2.85" fill="none" stroke="#b3b3b3" stroke-width="1.0"/>
<circle cx="195.63" cy="330.12" r="2.85" fill="none" stroke="#b3b3b3" stroke-width="1.0"/>
<circle cx="663.58" cy="168.62" r="2.85" fill="none" stroke="#b3b3b3" stroke-width="1.0"/>
<circle cx="195.63" cy="331.62" r="2.85" fill="none" stroke="#b3b3b3" stroke-width="1.0"/>
<circle cx="663.58" cy="170.12" r="2.85" fill="none" stroke="#b3b3b3" stroke-width="1.0"/>
<circle cx="195.63" cy="333.12" r="2.85" fill="none" stroke="#b3b3b3" stroke-width="1.0"/>
<circle cx="663.58" cy="171.62" r="2.85" fill="none" stroke="#b3b3b3" stroke-width="1.0"/>
<circle cx="195.63" cy="334.62" r="2.85" fill="none" stroke="#b3b3b3" stroke-width="1.0"/>
<circle cx="663.58" cy="173.12" r="2.85" fill="none" stroke="#b3b3b3" stroke-width="1.0"/>
<circle cx="195.63" cy="336.12" r="2.85" fill="none" stroke="#b3b3b3" stroke-width="1.0"/>
<circle cx="663.58" cy="174.62" r="2.85" fill="none" stroke="#b3b3b3" stroke-width="1.0"/>
<circle cx="195.63" cy="337.62" r="2.85" fill="none" stroke="#b3b3b3" stroke-width="1.0"/>
<circle cx="663.58" cy="176.12" r="2.85" fill="none" stroke="#b3b3b3" stroke-width="1.0"/>
<circle cx="195.63" cy="339.12" r="2.85" fill="none" stroke="#b3b3b3" stroke-width="1.0"/>
<circle cx="663.58" cy="177.62" r="2.85" fill="none" stroke="#b3b3b3" stroke-width="1.0"/>
<circle cx="195.63" cy="340.62" r="2.85" fill="none" stroke="#b3b3b3" stroke-width="1.0"/>
<circle cx="663.58" cy="179.12" r="2.85" fill="none" stroke="#b3b3b3" stroke-width="1.0"/>
<circle cx="195.63" cy="342.12" r="2.85" fill="none" stroke="#b3b3b3" stroke-width="1.0"/>
<circle cx="663.58" cy="180.62" r="2.85" fill="none" stroke="#b3b3b3" stroke-width="1.0"/>
<circle cx="195.63" cy="343.62" r="2.85" fill="none" stroke="#b3b3b3" stroke-width="1.0"/>
<circle cx="663.58" cy="182.12" r="2.85" fill="none" stroke="#b3b3b3" stroke-width="1.0"/>
<circle cx="195.63" cy="345.12" r="2.85" fill="none" stroke="#b3b3b3" stroke-width="1.0"/>
<circle cx="663.58" cy="183.62" r="2.85" fill="none" stroke="#b3b3b3" stroke-width="1.0"/>
<circle cx="195.63" cy="346.62" r="2.85" fill="none" stroke="#b3b3b3" stroke-width="1.0"/>
<circle cx="663.58" cy="185.12" r="2.85" fill="none" stroke="#b3b3b3" stroke-width="1.0"/>
<circle cx="195.63" cy="348.12" r="2.85" fill="none" stroke="#b3b3b3" stroke-width="1.0"/>
<circle cx="663.58" cy="186.62" r="2.85" fill="none" stroke="#b3b3b3" stroke-width="1.0"/>
<circle cx="349.00" cy="747.64" r="2.55" fill="none" stroke="#bababa" stroke-width="1.7"/>
<circle cx="197.12" cy="325.62" r="2.85" fill="none" stroke="#b3b3b3" stroke-width="1.0"/>
<circle cx="663.58" cy="165.03" r="2.85" fill="none" stroke="#b3b3b3" stroke-width="1.0"/>
<circle cx="197.12" cy="327.12" r="2.85" fill="none" stroke="#b3b3b3" stroke-width="1.0"/>
<circle cx="663.58" cy="166.53" r="2.85" fill="none" stroke="#b3b3b3" stroke-width="1.0"/>
<circle cx="197.12" cy="328.62" r="2.85" fill="none" stroke="#b3b3b3" stroke-width="1.0"/>
<circle cx="663.58" cy="168.03" r="2.85" fill="none" stroke="#b3b3b3" stroke-width="1.0"/>
<circle cx="197.12" cy="330.12" r="2.85" fill="none" stroke="#b3b3b3" stroke-width="1.0"/>
<circle cx="663.58" cy="169.53" r="2.85" fill="none" stroke="#b3b3b3" stroke-width="1.0"/>
<circle cx="197.12" cy="331.62" r="2.85" fill="none" stroke="#b3b3b3" stroke-width="1.0"/>
<circle cx="663.58" cy="171.03" r="2.85" fill="none" stroke="#b3b3b3" stroke-width="1.0"/>
<circle cx="197.12" cy="333.12" r="2.85" fill="none" stroke="#b3b3b3" stroke-width="1.0"/>
<circle cx="663.58" cy="172.53" r="2.85" fill="none" stroke="#b3b3b3" stroke-width="1.0"/>
<circle cx="197.12" cy="334.62" r="2.85" fill="none" stroke="#b3b3b3" stroke-width="1.0"/>
<circle cx="663.58" cy="174.03" r="2.85" fill="none" stroke="#b3b3b3" stroke-width="1.0"/>
<circle cx="197.12" cy="336.12" r="2.85" fill="none" stroke="#b3b3b3" stroke-width="1.0"/>
<circle cx="663.58" cy="175.53" r="2.85" fill="none" stroke="#b3b3b3" stroke-width="1.0"/>
<circle cx="197.12" cy="337.62" r="2.85" fill="none" stroke="#b3b3b3" stroke-width="1.0"/>
<circle cx="663.58" cy="177.03" r="2.85" fill="none" stroke="#b3b3b3" stroke-width="1.0"/>
<circle cx="197.12" cy="339.12" r="2.85" fill="none" stroke="#b3b3b3" stroke-width="1.0"/>
<circle cx="663.58" cy="178.53" r="2.85" fill="none" stroke="#b3b3b3" stroke-width="1.0"/>
<circle cx="197.12" cy="340.62" r="2.85" fill="none" stroke="#b3b3b3" stroke-width="1.0"/>
<circle cx="663.58" cy="180.03" r="2.85" fill="none" stroke="#b3b3b3" stroke-width="1.0"/>
<circle cx="197.12" cy="342.12" r="2.85" fill="none" stroke="#b3b3b3" stroke-width="1.0"/>
<circle cx="663.58" cy="181.53" r="2.85" fill="none" stroke="#b3b3b3" stroke-width="1.0"/>
<circle cx="197.12" cy="343.62" r="2.85" fill="none" stroke="#b3b3b3" stroke-width="1.0"/>
<circle cx="663.58" cy="183.03" r="2.85" fill="none" stroke="#b3b3b3" stroke-width="1.0"/>
<circle cx="197.12" cy="345.12" r="2.85" fill="none" stroke="#b3b3b3" stroke-width="1.0"/>
<circle cx="663.58" cy="184.53" r="2.85" fill="none" stroke="#b3b3b3" stroke-width="1.0"/>
<circle cx="197.12" cy="346.62" r="2.85" fill="none" stroke="#b3b3b3" stroke-width="1.0"/>
<circle cx="663.58" cy="186.03" r="2.85" fill="none" stroke="#b3b3b3" stroke-width="1.0"/>
<circle cx="197.12" cy="348.12" r="2.85" fill="none" stroke="#b3b3b3" stroke-width="1.0"/>
<circle cx="663.58" cy="187.53" r="2.85" fill="none" stroke="#b3b3b3" stroke-width="1.0"/>
<circle cx="350.40" cy="746.79" r="2.55" fill="none" stroke="#bababa" stroke-width="1.7"/>
<circle cx="198.52" cy="326.12" r="2.85" fill="none" stroke="#b3b3b3" stroke-width="1.0"/>
<circle cx="663.58" cy="166.38" r="2.85" fill="none" stroke="#b3b3b3" stroke-width="1.0"/>
<circle cx="198.53" cy="327.62" r="2.85" fill="none" stroke="#b3b3b3" stroke-width="1.0"/>
<circle cx="663.58" cy="167.88" r="2.85" fill="none" stroke="#b3b3b3" stroke-width="1.0"/>
<circle cx="198.53" cy="329.12" r="2.85" fill="none" stroke="#b3b3b3" stroke-width="1.0"/>
<circle cx="663.58" cy="169.38" r="2.85" fill="none" stroke="#b3b3b3" stroke-width="1.0"/>
<circle cx="198.53" cy="330.62" r="2.85" fill="none" stroke="#b3b3b3" stroke-width="1.0"/>
<circle cx="663.58" cy="170.88" r="2.85" fill="none" stroke="#b3b3b3" stroke-width="1.0"/>
<circle cx="198.53" cy="332.12" r="2.85" fill="none" stroke="#b3b3b3" stroke-width="1.0"/>
<circle cx="663.58" cy="172.38" r="2.85" fill="none" stroke="#b3b3b3" stroke-width="1.0"/>
<circle cx="198.53" cy="333.62" r="2.85" fill="none" stroke="#b3b3b3" stroke-width="1.0"/>
<circle cx="663.58" cy="173.88" r="2.85" fill="none" stroke="#b3b3b3" stroke-width="1.0"/>
<circle cx="198.53" cy="335.12" r="2.85" fill="none" stroke="#b3b3b3" stroke-width="1.0"/>
<circle cx="663.58" cy="175.38" r="2.85" fill="none" stroke="#b3b3b3" stroke-width="1.0"/>
<circle cx="198.53" cy="336.62" r="2.85" fill="none" stroke="#b3b3b3" stroke-width="1.0"/>
<circle cx="663.58" cy="176.88" r="2.85" fill="none" stroke="#b3b3b3" stroke-width="1.0"/>
<circle cx="198.53" cy="341.62" r="2.85" fill="none" stroke="#b3b3b3" stroke-width="1.0"/>
<circle cx="663.58" cy="181.88" r="2.85" fill="none" stroke="#b3b3b3" stroke-width="1.0"/>
<circle cx="198.53" cy="343.12" r="2.85" fill="none" stroke="#b3b3b3" stroke-width="1.0"/>
<circle cx="663.58" cy="183.38" r="2.85" fill="none" stroke="#b3b3b3" stroke-width="1.0"/>
<circle cx="198.53" cy="344.62" r="2.85" fill="none" stroke="#b3b3b3" stroke-width="1.0"/>
<circle cx="663.58" cy="184.88" r="2.85" fill="none" stroke="#b3b3b3" stroke-width="1.0"/>
<circle cx="198.53" cy="346.12" r="2.85" fill="none" stroke="#b3b3b3" stroke-width="1.0"/>
<circle cx="663.58" cy="186.38" r="2.85" fill="none" stroke="#b3b3b3" stroke-width="1.0"/>
<circle cx="198.53" cy="347.62" r="2.85" fill="none" stroke="#b3b3b3" stroke-width="1.0"/>
<circle cx="663.58" cy="187.88" r="2.85" fill="none" stroke="#b3b3b3" stroke-width="1.0"/>
<circle cx="354.81" cy="744.11" r="2.55" fill="none" stroke="#bababa" stroke-width="1.7"/>
<circle cx="202.94" cy="324.88" r="2.85" fill="none" stroke="#b3b3b3" stroke-width="1.0"/>
<circle cx="663.58" cy="167.83" r="2.85" fill="none" stroke="#b3b3b3" stroke-width="1.0"/>
<circle cx="202.94" cy="326.63" r="2.85" fill="none" stroke="#b3b3b3" stroke-width="1.0"/>
<circle cx="663.58" cy="169.57" r="2.85" fill="none" stroke="#b3b3b3" stroke-width="1.0"/>
<circle cx="202.94" cy="328.83" r="2.85" fill="none" stroke="#b3b3b3" stroke-width="1.0"/>
<circle cx="663.58" cy="171.77" r="2.85" fill="none" stroke="#b3b3b3" stroke-width="1.0"/>
<circle cx="202.94" cy="331.38" r="2.85" fill="none" stroke="#b3b3b3" stroke-width="1.0"/>
<circle cx="663.58" cy="174.32" r="2.85" fill="none" stroke="#b3b3b3" stroke-width="1.0"/>
<circle cx="202.94" cy="343.88" r="2.85" fill="none" stroke="#b3b3b3" stroke-width="1.0"/>
<circle cx="663.58" cy="186.82" r="2.85" fill="none" stroke="#b3b3b3" stroke-width="1.0"/>
<circle cx="202.94" cy="346.13" r="2.85" fill="none" stroke="#b3b3b3" stroke-width="1.0"/>
<circle cx="663.58" cy="189.07" r="2.85" fill="none" stroke="#b3b3b3" stroke-width="1.0"/>
<circle cx="202.94" cy="348.13" r="2.85" fill="none" stroke="#b3b3b3" stroke-width="1.0"/>
<circle cx="663.58" cy="191.07" r="2.85" fill="none" stroke="#b3b3b3" stroke-width="1.0"/>
<circle cx="202.94" cy="350.43" r="2.85" fill="none" stroke="#b3b3b3" stroke-width="1.0"/>
<circle cx="663.58" cy="193.37" r="2.85" fill="none" stroke="#b3b3b3" stroke-width="1.0"/>
<circle cx="363.62" cy="738.75" r="2.55" fill="none" stroke="#bababa" stroke-width="1.7"/>
<circle cx="211.74" cy="327.45" r="2.85" fill="none" stroke="#b3b3b3" stroke-width="1.0"/>
<circle cx="663.58" cy="175.76" r="2.85" fill="none" stroke="#b3b3b3" stroke-width="1.0"/>
<circle cx="211.74" cy="343.52" r="2.85" fill="none" stroke="#b3b3b3" stroke-width="1.0"/>
<circle cx="663.58" cy="191.83" r="2.85" fill="none" stroke="#b3b3b3" stroke-width="1.0"/>
<circle cx="211.74" cy="347.62" r="2.85" fill="none" stroke="#b3b3b3" stroke-width="1.0"/>
<circle cx="663.58" cy="195.93" r="2.85" fill="none" stroke="#b3b3b3" stroke-width="1.0"/>
<circle cx="211.74" cy="384.62" r="2.85" fill="none" stroke="#b3b3b3" stroke-width="1.0"/>
<circle cx="663.58" cy="232.93" r="2.85" fill="none" stroke="#b3b3b3" stroke-width="1.0"/>
<circle cx="211.74" cy="390.37" r="2.85" fill="none" stroke="#b3b3b3" stroke-width="1.0"/>
<circle cx="663.58" cy="238.68" r="2.85" fill="none" stroke="#b3b3b3" stroke-width="1.0"/>
<circle cx="376.61" cy="730.84" r="2.55" fill="none" stroke="#bababa" stroke-width="1.7"/>
<circle cx="224.73" cy="339.46" r="2.85" fill="none" stroke="#b3b3b3" stroke-width="1.0"/>
<circle cx="663.58" cy="195.67" r="2.85" fill="none" stroke="#b3b3b3" stroke-width="1.0"/>
<circle cx="224.73" cy="345.12" r="2.85" fill="none" stroke="#b3b3b3" stroke-width="1.0"/>
<circle cx="663.58" cy="201.34" r="2.85" fill="none" stroke="#b3b3b3" stroke-width="1.0"/>
<circle cx="224.73" cy="357.52" r="2.85" fill="none" stroke="#b3b3b3" stroke-width="1.0"/>
<circle cx="663.58" cy="213.74" r="2.85" fill="none" stroke="#b3b3b3" stroke-width="1.0"/>
<circle cx="224.73" cy="375.37" r="2.85" fill="none" stroke="#b3b3b3" stroke-width="1.0"/>
<circle cx="663.58" cy="231.59" r="2.85" fill="none" stroke="#b3b3b3" stroke-width="1.0"/>
<circle cx="224.73" cy="383.37" r="2.85" fill="none" stroke="#b3b3b3" stroke-width="1.0"/>
<circle cx="663.58" cy="239.59" r="2.85" fill="none" stroke="#b3b3b3" stroke-width="1.0"/>
<circle cx="397.68" cy="718.02" r="2.55" fill="none" stroke="#bababa" stroke-width="1.7"/>
<circle cx="245.80" cy="315.48" r="2.85" fill="none" stroke="#b3b3b3" stroke-width="1.0"/>
<circle cx="663.58" cy="184.51" r="2.85" fill="none" stroke="#b3b3b3" stroke-width="1.0"/>
<circle cx="245.80" cy="337.62" r="2.85" fill="none" stroke="#b3b3b3" stroke-width="1.0"/>
<circle cx="663.58" cy="206.66" r="2.85" fill="none" stroke="#b3b3b3" stroke-width="1.0"/>
<circle cx="245.80" cy="340.42" r="2.85" fill="none" stroke="#b3b3b3" stroke-width="1.0"/>
<circle cx="663.58" cy="209.46" r="2.85" fill="none" stroke="#b3b3b3" stroke-width="1.0"/>
<circle cx="245.80" cy="353.52" r="2.85" fill="none" stroke="#b3b3b3" stroke-width="1.0"/>
<circle cx="663.58" cy="222.56" r="2.85" fill="none" stroke="#b3b3b3" stroke-width="1.0"/>
<circle cx="245.80" cy="401.62" r="2.85" fill="none" stroke="#b3b3b3" stroke-width="1.0"/>
<circle cx="663.58" cy="270.66" r="2.85" fill="none" stroke="#b3b3b3" stroke-width="1.0"/>
<circle cx="245.80" cy="406.12" r="2.85" fill="none" stroke="#b3b3b3" stroke-width="1.0"/>
<circle cx="663.58" cy="275.16" r="2.85" fill="none" stroke="#b3b3b3" stroke-width="1.0"/>
<circle cx="432.00" cy="697.13" r="2.55" fill="none" stroke="#bababa" stroke-width="1.7"/>
<circle cx="280.12" cy="340.43" r="2.85" fill="none" stroke="#b3b3b3" stroke-width="1.0"/>
<circle cx="663.58" cy="230.35" r="2.85" fill="none" stroke="#b3b3b3" stroke-width="1.0"/>
<circle cx="280.12" cy="346.12" r="2.85" fill="none" stroke="#b3b3b3" stroke-width="1.0"/>
<circle cx="663.58" cy="236.05" r="2.85" fill="none" stroke="#b3b3b3" stroke-width="1.0"/>
<circle cx="280.12" cy="399.12" r="2.85" fill="none" stroke="#b3b3b3" stroke-width="1.0"/>
<circle cx="663.58" cy="289.05" r="2.85" fill="none" stroke="#b3b3b3" stroke-width="1.0"/>
<circle cx="280.12" cy="411.62" r="2.85" fill="none" stroke="#b3b3b3" stroke-width="1.0"/>
<circle cx="663.58" cy="301.55" r="2.85" fill="none" stroke="#b3b3b3" stroke-width="1.0"/>
<circle cx="280.12" cy="466.62" r="2.85" fill="none" stroke="#b3b3b3" stroke-width="1.0"/>
<circle cx="663.58" cy="356.55" r="2.85" fill="none" stroke="#b3b3b3" stroke-width="1.0"/>
<circle cx="280.12" cy="516.12" r="2.85" fill="none" stroke="#b3b3b3" stroke-width="1.0"/>
<circle cx="663.58" cy="406.05" r="2.85" fill="none" stroke="#b3b3b3" stroke-width="1.0"/>
<circle cx="192.52" cy="327.52" r="2.85" fill="none" stroke="#b3b3b3" stroke-width="1.0"/>
<circle cx="663.58" cy="164.13" r="2.85" fill="none" stroke="#b3b3b3" stroke-width="1.0"/>
<circle cx="240.48" cy="385.00" r="4.4" fill="#0566c8"/>
<circle cx="240.48" cy="430.00" r="4.4" fill="#0566c8"/>
<circle cx="240.48" cy="502.00" r="4.4" fill="#0566c8"/>
<circle cx="240.48" cy="540.00" r="4.4" fill="#0566c8"/>
<circle cx="240.48" cy="549.50" r="4.4" fill="#0566c8"/>
<circle cx="240.48" cy="561.25" r="4.4" fill="#0566c8"/>
<circle cx="240.48" cy="634.50" r="4.4" fill="#0566c8"/>
<circle cx="240.48" cy="695.50" r="4.4" fill="#0566c8"/>
<circle cx="341.73" cy="429.00" r="4.4" fill="#0566c8"/>
<circle cx="341.73" cy="432.00" r="4.4" fill="#0566c8"/>
<circle cx="341.73" cy="452.00" r="4.4" fill="#0566c8"/>
<circle cx="341.73" cy="526.25" r="4.4" fill="#0566c8"/>
<circle cx="341.73" cy="542.50" r="4.4" fill="#0566c8"/>
<circle cx="341.73" cy="577.00" r="4.4" fill="#0566c8"/>
<circle cx="341.73" cy="580.00" r="4.4" fill="#0566c8"/>
<circle cx="341.73" cy="635.50" r="4.4" fill="#0566c8"/>
<circle cx="341.73" cy="693.25" r="4.4" fill="#0566c8"/>
<circle cx="442.98" cy="445.50" r="4.4" fill="#0566c8"/>
<circle cx="442.98" cy="469.50" r="4.4" fill="#0566c8"/>
<circle cx="442.98" cy="494.00" r="4.4" fill="#0566c8"/>
<circle cx="442.98" cy="537.00" r="4.4" fill="#0566c8"/>
<circle cx="442.98" cy="577.50" r="4.4" fill="#0566c8"/>
<circle cx="442.98" cy="597.50" r="4.4" fill="#0566c8"/>
<circle cx="442.98" cy="647.50" r="4.4" fill="#0566c8"/>
<circle cx="442.98" cy="693.25" r="4.4" fill="#0566c8"/>
<circle cx="544.23" cy="483.00" r="4.4" fill="#0566c8"/>
<circle cx="544.23" cy="495.50" r="4.4" fill="#0566c8"/>
<circle cx="544.23" cy="556.25" r="4.4" fill="#0566c8"/>
<circle cx="544.23" cy="560.00" r="4.4" fill="#0566c8"/>
<circle cx="544.23" cy="563.00" r="4.4" fill="#0566c8"/>
<circle cx="544.23" cy="573.25" r="4.4" fill="#0566c8"/>
<circle cx="544.23" cy="644.25" r="4.4" fill="#0566c8"/>
<circle cx="544.23" cy="679.25" r="4.4" fill="#0566c8"/>
<circle cx="544.23" cy="715.25" r="4.4" fill="#0566c8"/>
<circle cx="645.48" cy="484.25" r="4.4" fill="#0566c8"/>
<circle cx="645.48" cy="504.25" r="4.4" fill="#0566c8"/>
<circle cx="645.48" cy="548.25" r="4.4" fill="#0566c8"/>
<circle cx="645.48" cy="561.25" r="4.4" fill="#0566c8"/>
<circle cx="645.48" cy="576.50" r="4.4" fill="#0566c8"/>
<circle cx="645.48" cy="605.50" r="4.4" fill="#0566c8"/>
<circle cx="645.48" cy="688.25" r="4.4" fill="#0566c8"/>
<circle cx="645.48" cy="711.50" r="4.4" fill="#0566c8"/>
<circle cx="645.48" cy="739.50" r="4.4" fill="#0566c8"/>
<circle cx="746.73" cy="517.50" r="4.4" fill="#0566c8"/>
<circle cx="746.73" cy="537.50" r="4.4" fill="#0566c8"/>
<circle cx="746.73" cy="580.00" r="4.4" fill="#0566c8"/>
<circle cx="746.73" cy="594.25" r="4.4" fill="#0566c8"/>
<circle cx="746.73" cy="620.50" r="4.4" fill="#0566c8"/>
<circle cx="746.73" cy="748.00" r="4.4" fill="#0566c8"/>
<circle cx="746.73" cy="763.75" r="4.4" fill="#0566c8"/>
<circle cx="746.73" cy="769.50" r="4.4" fill="#0566c8"/>
<circle cx="386.78" cy="344.50" r="4.4" fill="#0566c8"/>
<circle cx="386.78" cy="378.00" r="4.4" fill="#0566c8"/>
<circle cx="386.78" cy="387.50" r="4.4" fill="#0566c8"/>
<circle cx="386.78" cy="449.50" r="4.4" fill="#0566c8"/>
<circle cx="386.78" cy="462.50" r="4.4" fill="#0566c8"/>
<circle cx="386.78" cy="466.00" r="4.4" fill="#0566c8"/>
<circle cx="386.78" cy="476.50" r="4.4" fill="#0566c8"/>
<circle cx="386.78" cy="511.50" r="4.4" fill="#0566c8"/>
<circle cx="386.78" cy="562.50" r="4.4" fill="#0566c8"/>
<circle cx="488.03" cy="380.50" r="4.4" fill="#0566c8"/>
<circle cx="488.03" cy="403.00" r="4.4" fill="#0566c8"/>
<circle cx="488.03" cy="424.00" r="4.4" fill="#0566c8"/>
<circle cx="488.03" cy="465.00" r="4.4" fill="#0566c8"/>
<circle cx="488.03" cy="478.50" r="4.4" fill="#0566c8"/>
<circle cx="488.03" cy="496.50" r="4.4" fill="#0566c8"/>
<circle cx="488.03" cy="515.00" r="4.4" fill="#0566c8"/>
<circle cx="488.03" cy="566.25" r="4.4" fill="#0566c8"/>
<circle cx="589.28" cy="440.75" r="4.4" fill="#0566c8"/>
<circle cx="589.28" cy="444.50" r="4.4" fill="#0566c8"/>
<circle cx="589.28" cy="462.50" r="4.4" fill="#0566c8"/>
<circle cx="589.28" cy="465.75" r="4.4" fill="#0566c8"/>
<circle cx="589.28" cy="484.25" r="4.4" fill="#0566c8"/>
<circle cx="589.28" cy="505.25" r="4.4" fill="#0566c8"/>
<circle cx="589.28" cy="547.00" r="4.4" fill="#0566c8"/>
<circle cx="589.28" cy="590.50" r="4.4" fill="#0566c8"/>
<circle cx="589.28" cy="618.50" r="4.4" fill="#0566c8"/>
<circle cx="690.53" cy="457.25" r="4.4" fill="#0566c8"/>
<circle cx="690.53" cy="478.00" r="4.4" fill="#0566c8"/>
<circle cx="690.53" cy="488.25" r="4.4" fill="#0566c8"/>
<circle cx="690.53" cy="498.25" r="4.4" fill="#0566c8"/>
<circle cx="690.53" cy="535.50" r="4.4" fill="#0566c8"/>
<circle cx="690.53" cy="547.00" r="4.4" fill="#0566c8"/>
<circle cx="690.53" cy="594.25" r="4.4" fill="#0566c8"/>
<circle cx="690.53" cy="600.75" r="4.4" fill="#0566c8"/>
<circle cx="690.53" cy="650.25" r="4.4" fill="#0566c8"/>
<circle cx="791.78" cy="487.50" r="4.4" fill="#0566c8"/>
<circle cx="791.78" cy="492.50" r="4.4" fill="#0566c8"/>
<circle cx="791.78" cy="537.50" r="4.4" fill="#0566c8"/>
<circle cx="791.78" cy="556.75" r="4.4" fill="#0566c8"/>
<circle cx="791.78" cy="594.25" r="4.4" fill="#0566c8"/>
<circle cx="791.78" cy="633.75" r="4.4" fill="#0566c8"/>
<circle cx="791.78" cy="637.00" r="4.4" fill="#0566c8"/>
<circle cx="893.03" cy="498.75" r="4.4" fill="#0566c8"/>
<circle cx="893.03" cy="502.50" r="4.4" fill="#0566c8"/>
<circle cx="893.03" cy="510.00" r="4.4" fill="#0566c8"/>
<circle cx="893.03" cy="525.50" r="4.4" fill="#0566c8"/>
<circle cx="893.03" cy="541.25" r="4.4" fill="#0566c8"/>
<circle cx="893.03" cy="623.50" r="4.4" fill="#0566c8"/>
<circle cx="893.03" cy="668.50" r="4.4" fill="#0566c8"/>
<circle cx="893.03" cy="697.25" r="4.4" fill="#0566c8"/>
<circle cx="533.07" cy="314.50" r="4.4" fill="#0566c8"/>
<circle cx="533.07" cy="335.00" r="4.4" fill="#0566c8"/>
<circle cx="533.07" cy="341.25" r="4.4" fill="#0566c8"/>
<circle cx="533.07" cy="380.50" r="4.4" fill="#0566c8"/>
<circle cx="533.07" cy="386.25" r="4.4" fill="#0566c8"/>
<circle cx="533.07" cy="390.00" r="4.4" fill="#0566c8"/>
<circle cx="533.07" cy="398.25" r="4.4" fill="#0566c8"/>
<circle cx="533.07" cy="403.75" r="4.4" fill="#0566c8"/>
<circle cx="533.07" cy="433.50" r="4.4" fill="#0566c8"/>
<circle cx="634.32" cy="353.50" r="4.4" fill="#0566c8"/>
<circle cx="634.32" cy="364.25" r="4.4" fill="#0566c8"/>
<circle cx="634.32" cy="370.50" r="4.4" fill="#0566c8"/>
<circle cx="634.32" cy="406.75" r="4.4" fill="#0566c8"/>
<circle cx="634.32" cy="414.25" r="4.4" fill="#0566c8"/>
<circle cx="634.32" cy="447.50" r="4.4" fill="#0566c8"/>
<circle cx="634.32" cy="480.50" r="4.4" fill="#0566c8"/>
<circle cx="735.57" cy="390.50" r="4.4" fill="#0566c8"/>
<circle cx="735.57" cy="398.00" r="4.4" fill="#0566c8"/>
<circle cx="735.57" cy="401.25" r="4.4" fill="#0566c8"/>
<circle cx="735.57" cy="411.25" r="4.4" fill="#0566c8"/>
<circle cx="735.57" cy="453.75" r="4.4" fill="#0566c8"/>
<circle cx="735.57" cy="458.75" r="4.4" fill="#0566c8"/>
<circle cx="735.57" cy="473.75" r="4.4" fill="#0566c8"/>
<circle cx="836.82" cy="415.75" r="4.4" fill="#0566c8"/>
<circle cx="836.82" cy="418.75" r="4.4" fill="#0566c8"/>
<circle cx="836.82" cy="421.25" r="4.4" fill="#0566c8"/>
<circle cx="836.82" cy="431.25" r="4.4" fill="#0566c8"/>
<circle cx="836.82" cy="439.25" r="4.4" fill="#0566c8"/>
<circle cx="836.82" cy="457.50" r="4.4" fill="#0566c8"/>
<circle cx="836.82" cy="497.50" r="4.4" fill="#0566c8"/>
<circle cx="836.82" cy="573.25" r="4.4" fill="#0566c8"/>
<circle cx="938.07" cy="439.25" r="4.4" fill="#0566c8"/>
<circle cx="938.07" cy="449.50" r="4.4" fill="#0566c8"/>
<circle cx="938.07" cy="452.50" r="4.4" fill="#0566c8"/>
<circle cx="938.07" cy="467.50" r="4.4" fill="#0566c8"/>
<circle cx="938.07" cy="505.50" r="4.4" fill="#0566c8"/>
<circle cx="938.07" cy="548.25" r="4.4" fill="#0566c8"/>
<circle cx="1039.32" cy="474.25" r="4.4" fill="#0566c8"/>
<circle cx="1039.32" cy="487.50" r="4.4" fill="#0566c8"/>
<circle cx="1039.32" cy="494.25" r="4.4" fill="#0566c8"/>
<circle cx="1039.32" cy="498.00" r="4.4" fill="#0566c8"/>
<circle cx="1039.32" cy="509.25" r="4.4" fill="#0566c8"/>
<circle cx="1039.32" cy="563.25" r="4.4" fill="#0566c8"/>
<circle cx="1039.32" cy="586.25" r="4.4" fill="#0566c8"/>
<circle cx="344.40" cy="358.40" r="4.0" fill="#ff0000"/>
<text x="518.40" y="48.00" font-size="24" text-anchor="start" font-family="Liberation Sans, sans-serif" fill="#000" stroke="#000" stroke-width="0.25" textLength="142" lengthAdjust="spacingAndGlyphs">Optimization</text>
<text x="669.30" y="48.00" font-size="24" text-anchor="start" font-family="Liberation Sans, sans-serif" fill="#000" stroke="#000" stroke-width="0.25" textLength="93" lengthAdjust="spacingAndGlyphs">Function</text>
<text x="145.70" y="743.80" font-size="16.3" text-anchor="end" font-family="Liberation Sans, sans-serif" fill="#000" stroke="#000" stroke-width="0.25" textLength="20.96" lengthAdjust="spacingAndGlyphs">0.1</text>
<text x="145.70" y="690.70" font-size="16.3" text-anchor="end" font-family="Liberation Sans, sans-serif" fill="#000" stroke="#000" stroke-width="0.25" textLength="29.35" lengthAdjust="spacingAndGlyphs">0.15</text>
<text x="145.70" y="637.60" font-size="16.3" text-anchor="end" font-family="Liberation Sans, sans-serif" fill="#000" stroke="#000" stroke-width="0.25" textLength="20.96" lengthAdjust="spacingAndGlyphs">0.2</text>
<text x="145.70" y="584.50" font-size="16.3" text-anchor="end" font-family="Liberation Sans, sans-serif" fill="#000" stroke="#000" stroke-width="0.25" textLength="29.35" lengthAdjust="spacingAndGlyphs">0.25</text>
<text x="145.70" y="531.40" font-size="16.3" text-anchor="end" font-family="Liberation Sans, sans-serif" fill="#000" stroke="#000" stroke-width="0.25" textLength="20.96" lengthAdjust="spacingAndGlyphs">0.3</text>
<text x="145.70" y="478.30" font-size="16.3" text-anchor="end" font-family="Liberation Sans, sans-serif" fill="#000" stroke="#000" stroke-width="0.25" textLength="29.35" lengthAdjust="spacingAndGlyphs">0.35</text>
<text x="145.70" y="425.20" font-size="16.3" text-anchor="end" font-family="Liberation Sans, sans-serif" fill="#000" stroke="#000" stroke-width="0.25" textLength="20.96" lengthAdjust="spacingAndGlyphs">0.4</text>
<text x="145.70" y="372.10" font-size="16.3" text-anchor="end" font-family="Liberation Sans, sans-serif" fill="#000" stroke="#000" stroke-width="0.25" textLength="29.35" lengthAdjust="spacingAndGlyphs">0.45</text>
<text x="145.70" y="319.00" font-size="16.3" text-anchor="end" font-family="Liberation Sans, sans-serif" fill="#000" stroke="#000" stroke-width="0.25" textLength="20.96" lengthAdjust="spacingAndGlyphs">0.5</text>
<text x="208.03" y="761.99" font-size="16.3" text-anchor="middle" font-family="Liberation Sans, sans-serif" fill="#000" stroke="#000" stroke-width="0.25" textLength="8.39" lengthAdjust="spacingAndGlyphs">6</text>
<text x="309.28" y="782.57" font-size="16.3" text-anchor="middle" font-family="Liberation Sans, sans-serif" fill="#000" stroke="#000" stroke-width="0.25" textLength="8.39" lengthAdjust="spacingAndGlyphs">7</text>
<text x="410.53" y="803.16" font-size="16.3" text-anchor="middle" font-family="Liberation Sans, sans-serif" fill="#000" stroke="#000" stroke-width="0.25" textLength="8.39" lengthAdjust="spacingAndGlyphs">8</text>
<text x="511.78" y="823.74" font-size="16.3" text-anchor="middle" font-family="Liberation Sans, sans-serif" fill="#000" stroke="#000" stroke-width="0.25" textLength="8.39" lengthAdjust="spacingAndGlyphs">9</text>
<text x="613.02" y="844.32" font-size="16.3" text-anchor="middle" font-family="Liberation Sans, sans-serif" fill="#000" stroke="#000" stroke-width="0.25" textLength="16.77" lengthAdjust="spacingAndGlyphs">10</text>
<text x="714.27" y="864.91" font-size="16.3" text-anchor="middle" font-family="Liberation Sans, sans-serif" fill="#000" stroke="#000" stroke-width="0.25" textLength="15.65" lengthAdjust="spacingAndGlyphs">11</text>
<text x="811.56" y="855.19" font-size="16.3" text-anchor="start" font-family="Liberation Sans, sans-serif" fill="#000" stroke="#000" stroke-width="0.25" textLength="29.35" lengthAdjust="spacingAndGlyphs">0.12</text>
<text x="870.08" y="819.58" font-size="16.3" text-anchor="start" font-family="Liberation Sans, sans-serif" fill="#000" stroke="#000" stroke-width="0.25" textLength="29.35" lengthAdjust="spacingAndGlyphs">0.14</text>
<text x="928.59" y="783.96" font-size="16.3" text-anchor="start" font-family="Liberation Sans, sans-serif" fill="#000" stroke="#000" stroke-width="0.25" textLength="29.35" lengthAdjust="spacingAndGlyphs">0.16</text>
<text x="987.11" y="748.34" font-size="16.3" text-anchor="start" font-family="Liberation Sans, sans-serif" fill="#000" stroke="#000" stroke-width="0.25" textLength="29.35" lengthAdjust="spacingAndGlyphs">0.18</text>
<text x="1045.63" y="712.72" font-size="16.3" text-anchor="start" font-family="Liberation Sans, sans-serif" fill="#000" stroke="#000" stroke-width="0.25" textLength="20.96" lengthAdjust="spacingAndGlyphs">0.2</text>
<text x="1104.14" y="677.11" font-size="16.3" text-anchor="start" font-family="Liberation Sans, sans-serif" fill="#000" stroke="#000" stroke-width="0.25" textLength="29.35" lengthAdjust="spacingAndGlyphs">0.22</text>
<text x="106.60" y="525.00" font-size="21.3" text-anchor="middle" font-family="Liberation Sans, sans-serif" fill="#000" stroke="#000" stroke-width="0.25" transform="rotate(-90.00 106.60 525.00)" textLength="214" lengthAdjust="spacingAndGlyphs">Optimization Function</text>
<text x="418.50" y="836.00" font-size="21.3" text-anchor="middle" font-family="Liberation Sans, sans-serif" fill="#000" stroke="#000" stroke-width="0.25" transform="rotate(11.49 418.50 836.00)" textLength="99" lengthAdjust="spacingAndGlyphs">Blades [ - ]</text>
<text x="1024.50" y="778.50" font-size="20.8" text-anchor="middle" font-family="Liberation Sans, sans-serif" fill="#000" stroke="#000" stroke-width="0.25" transform="rotate(-31.33 1024.50 778.50)" textLength="125" lengthAdjust="spacingAndGlyphs">Thickness [ - ]</text>
</svg></body></html>
